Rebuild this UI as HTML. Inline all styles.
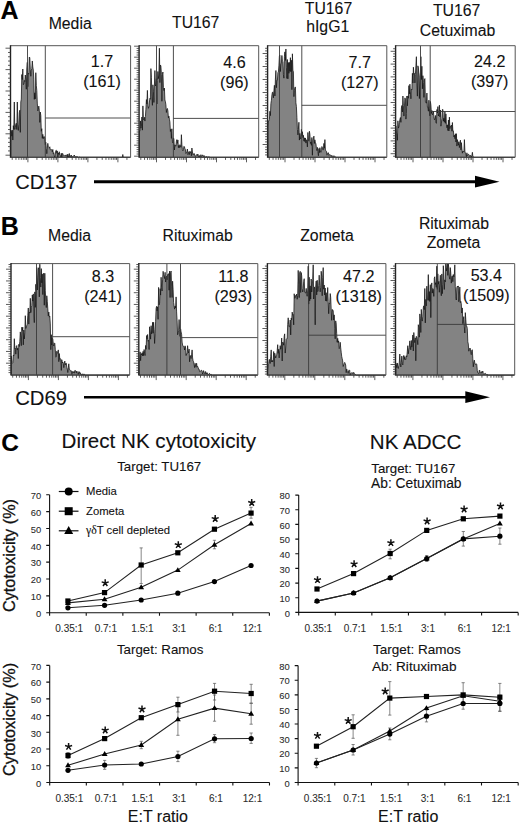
<!DOCTYPE html>
<html><head><meta charset="utf-8"><style>
html,body{margin:0;padding:0;background:#fff;}
svg{display:block;}
text{font-family:"Liberation Sans",sans-serif;}
</style></head><body>
<svg width="520" height="825" viewBox="0 0 520 825">
<rect x="0" y="0" width="520" height="825" fill="#fff"/>
<path d="M10.80,157.30 L10.80,131.46 L11.30,130.49 L11.80,136.20 L12.30,130.12 L12.80,140.02 L13.30,125.65 L13.80,129.38 L14.30,102.00 L14.80,129.42 L15.30,127.65 L15.80,124.45 L16.30,123.28 L16.80,129.51 L17.30,102.00 L17.80,123.26 L18.30,130.42 L18.80,124.74 L19.30,112.74 L19.80,110.19 L20.30,132.35 L20.80,102.00 L21.30,99.18 L21.80,74.55 L22.30,79.55 L22.80,69.00 L23.30,84.71 L23.80,84.01 L24.30,80.45 L24.80,81.54 L25.30,75.01 L25.80,79.67 L26.30,89.22 L26.80,69.00 L27.30,62.36 L27.80,86.72 L28.30,73.24 L28.80,74.18 L29.30,57.00 L29.80,57.81 L30.30,69.46 L30.80,76.26 L31.30,70.00 L31.80,68.50 L32.30,60.97 L32.80,66.97 L33.30,70.00 L33.80,79.13 L34.30,99.37 L34.80,92.78 L35.30,98.84 L35.80,72.69 L36.30,85.43 L36.80,90.47 L37.30,103.08 L37.80,110.87 L38.30,109.49 L38.80,106.07 L39.30,110.21 L39.80,122.40 L40.30,112.00 L40.80,115.48 L41.30,131.27 L41.80,128.70 L42.30,138.29 L42.80,134.34 L43.30,138.68 L43.80,136.67 L44.30,136.64 L44.80,138.10 L45.30,144.53 L45.80,142.19 L46.30,148.27 L46.80,153.72 L47.30,149.03 L47.80,143.35 L48.30,146.82 L48.80,147.41 L49.30,147.88 L49.80,146.76 L50.30,149.79 L50.80,149.98 L51.30,149.42 L51.80,150.16 L52.30,151.80 L52.80,149.40 L53.30,153.61 L53.80,152.70 L54.30,155.71 L54.80,157.30 L55.30,154.21 L55.80,150.65 L56.30,150.28 L56.80,153.24 L57.30,150.93 L57.80,157.04 L58.30,152.90 L58.80,154.41 L59.30,151.76 L59.80,155.09 L60.30,155.45 L60.80,156.80 L61.30,153.26 L61.80,157.30 L62.30,153.56 L62.80,153.49 L63.30,155.41 L63.80,155.68 L64.30,155.45 L64.80,155.72 L65.30,156.01 L65.80,155.03 L66.30,155.16 L66.80,154.91 L67.30,157.14 L67.80,154.06 L68.30,156.90 L68.80,155.98 L69.30,153.50 L69.80,156.97 L70.30,155.84 L70.80,156.13 L71.30,155.04 L71.80,157.30 L72.30,156.66 L72.80,156.47 L73.30,156.09 L73.80,156.16 L74.30,155.06 L74.80,156.11 L75.30,156.80 L75.80,156.76 L76.30,156.69 L76.80,156.48 L77.30,156.62 L77.80,157.01 L78.30,157.30 L78.80,157.19 L79.30,156.72 L79.80,157.30 L80.30,157.30 L80.80,157.30 L81.30,157.30 L81.80,157.30 L82.30,157.30 L82.80,157.30 L83.30,157.30 L83.80,157.30 L84.30,157.30 L84.80,157.30 L85.30,157.30 L85.80,157.30 L86.30,157.30 L86.80,157.30 L87.30,157.30 L87.80,157.30 L88.30,157.30 L88.80,157.30 L89.30,157.30 L89.80,157.30 L90.30,157.30 L90.80,157.30 L91.30,157.30 L91.80,157.30 L92.30,157.30 L92.80,157.30 L93.30,157.30 L93.80,157.30 L94.30,157.30 L94.80,157.30 L95.30,157.30 L95.80,157.30 L96.30,157.30 L96.80,157.30 L97.30,157.30 L97.80,157.30 L98.30,157.30 L98.80,157.30 L99.30,157.30 L99.80,157.30 L100.30,157.30 L100.80,157.30 L101.30,157.30 L101.80,157.30 L102.30,157.30 L102.80,157.30 L103.30,157.30 L103.80,157.30 L104.30,157.30 L104.80,157.30 L105.30,157.30 L105.80,157.30 L106.30,157.30 L106.80,157.30 L107.30,157.30 L107.80,157.30 L108.30,157.30 L108.80,157.30 L109.30,157.30 L109.80,157.30 L110.30,157.30 L110.80,157.30 L111.30,157.30 L111.80,157.30 L112.30,157.30 L112.80,157.30 L113.30,157.30 L113.80,157.30 L114.30,157.30 L114.80,157.30 L115.30,157.30 L115.80,157.30 L116.30,157.30 L116.80,157.30 L117.30,157.30 L117.80,157.30 L118.30,157.30 L118.80,157.30 L119.30,157.30 L119.80,157.30 L120.30,157.30 L120.80,157.30 L121.30,157.30 L121.80,157.30 L122.30,157.30 L122.80,154.50 L123.30,157.30 L123.80,157.30 L124.30,157.30 L124.80,157.30 L125.30,157.30 L125.80,157.30 L126.30,157.30 L126.80,157.30 L127.30,157.30 L127.80,157.30 L128.30,157.30 L128.80,157.30 L129.30,157.30 L129.80,157.30 L130.30,157.30 Z" fill="#838383" stroke="#111" stroke-width="0.75" stroke-linejoin="bevel"/>
<path d="M27.50,45.70 V157.30 M45.30,45.70 V157.30 M45.30,118.00 H130.60" stroke="#3a3a3a" stroke-width="0.9" fill="none"/>
<path d="M10.50,45.70 H130.60 V157.30" stroke="#555" stroke-width="1" fill="none"/>
<path d="M10.50,45.20 V157.80" stroke="#222" stroke-width="1.4" fill="none"/>
<path d="M10.50,157.30 H130.60" stroke="#444" stroke-width="1" fill="none"/>
<path d="M12.21,157.30 v2.60 M15.96,157.30 v2.60 M18.87,157.30 v2.60 M21.24,157.30 v2.60 M23.25,157.30 v2.60 M24.99,157.30 v2.60 M26.53,157.30 v2.60 M27.90,157.30 v5.00 M36.93,157.30 v2.60 M42.21,157.30 v2.60 M45.96,157.30 v2.60 M48.87,157.30 v2.60 M51.24,157.30 v2.60 M53.25,157.30 v2.60 M54.99,157.30 v2.60 M56.53,157.30 v2.60 M57.90,157.30 v5.00 M66.93,157.30 v2.60 M72.21,157.30 v2.60 M75.96,157.30 v2.60 M78.87,157.30 v2.60 M81.24,157.30 v2.60 M83.25,157.30 v2.60 M84.99,157.30 v2.60 M86.53,157.30 v2.60 M87.90,157.30 v5.00 M96.93,157.30 v2.60 M102.21,157.30 v2.60 M105.96,157.30 v2.60 M108.87,157.30 v2.60 M111.24,157.30 v2.60 M113.25,157.30 v2.60 M114.99,157.30 v2.60 M116.53,157.30 v2.60 M117.90,157.30 v5.00 M126.93,157.30 v2.60 " stroke="#333" stroke-width="0.8" fill="none"/>
<path d="M10.50,48.20 h-5.00 M10.50,52.48 h-2.50 M10.50,56.76 h-2.50 M10.50,61.04 h-2.50 M10.50,65.32 h-2.50 M10.50,69.60 h-5.00 M10.50,73.88 h-2.50 M10.50,78.16 h-2.50 M10.50,82.44 h-2.50 M10.50,86.72 h-2.50 M10.50,91.00 h-5.00 M10.50,95.28 h-2.50 M10.50,99.56 h-2.50 M10.50,103.84 h-2.50 M10.50,108.12 h-2.50 M10.50,112.40 h-5.00 M10.50,116.68 h-2.50 M10.50,120.96 h-2.50 M10.50,125.24 h-2.50 M10.50,129.52 h-2.50 M10.50,133.80 h-5.00 M10.50,138.08 h-2.50 M10.50,142.36 h-2.50 M10.50,146.64 h-2.50 M10.50,150.92 h-2.50 M10.50,155.20 h-5.00 " stroke="#333" stroke-width="0.8" fill="none"/>
<path d="M139.40,157.30 L139.40,130.90 L139.90,131.18 L140.40,120.86 L140.90,128.18 L141.40,126.72 L141.90,117.00 L142.40,130.15 L142.90,105.90 L143.40,119.32 L143.90,120.00 L144.40,117.24 L144.90,121.05 L145.40,116.66 L145.90,109.24 L146.40,99.58 L146.90,103.94 L147.40,90.40 L147.90,105.45 L148.40,108.31 L148.90,106.87 L149.40,102.03 L149.90,98.39 L150.40,99.20 L150.90,68.60 L151.40,77.50 L151.90,96.14 L152.40,105.32 L152.90,84.80 L153.40,91.23 L153.90,102.44 L154.40,85.95 L154.90,70.55 L155.40,85.92 L155.90,84.36 L156.40,78.75 L156.90,103.98 L157.40,80.34 L157.90,71.47 L158.40,78.60 L158.90,75.11 L159.40,48.20 L159.90,82.60 L160.40,64.98 L160.90,65.99 L161.40,74.29 L161.90,101.25 L162.40,74.75 L162.90,72.00 L163.40,87.39 L163.90,90.57 L164.40,88.09 L164.90,100.00 L165.40,101.59 L165.90,104.88 L166.40,112.46 L166.90,109.04 L167.40,108.48 L167.90,110.95 L168.40,117.89 L168.90,116.12 L169.40,119.17 L169.90,121.94 L170.40,131.45 L170.90,129.22 L171.40,138.40 L171.90,128.78 L172.40,141.30 L172.90,142.94 L173.40,138.20 L173.90,138.47 L174.40,150.01 L174.90,144.78 L175.40,145.91 L175.90,146.24 L176.40,141.28 L176.90,139.60 L177.40,143.32 L177.90,139.96 L178.40,147.67 L178.90,145.36 L179.40,147.67 L179.90,144.65 L180.40,145.88 L180.90,147.30 L181.40,134.70 L181.90,144.68 L182.40,149.61 L182.90,150.84 L183.40,149.91 L183.90,146.25 L184.40,146.72 L184.90,148.48 L185.40,149.50 L185.90,153.63 L186.40,152.90 L186.90,151.53 L187.40,149.00 L187.90,154.68 L188.40,153.65 L188.90,151.65 L189.40,154.55 L189.90,151.35 L190.40,152.55 L190.90,151.68 L191.40,155.78 L191.90,148.00 L192.40,151.96 L192.90,154.88 L193.40,154.72 L193.90,153.36 L194.40,153.77 L194.90,155.73 L195.40,156.46 L195.90,155.57 L196.40,155.00 L196.90,154.41 L197.40,155.48 L197.90,154.10 L198.40,156.26 L198.90,156.97 L199.40,155.53 L199.90,157.14 L200.40,156.68 L200.90,154.64 L201.40,156.53 L201.90,155.99 L202.40,154.98 L202.90,155.13 L203.40,156.56 L203.90,155.56 L204.40,155.97 L204.90,156.13 L205.40,157.30 L205.90,157.16 L206.40,156.47 L206.90,156.82 L207.40,156.88 L207.90,157.30 L208.40,157.30 L208.90,156.51 L209.40,157.30 L209.90,157.30 L210.40,157.30 L210.90,157.30 L211.40,157.30 L211.90,157.30 L212.40,157.30 L212.90,157.30 L213.40,157.30 L213.90,157.30 L214.40,157.30 L214.90,157.30 L215.40,157.30 L215.90,157.30 L216.40,157.30 L216.90,157.30 L217.40,157.30 L217.90,157.30 L218.40,157.30 L218.90,157.30 L219.40,157.30 L219.90,157.30 L220.40,157.30 L220.90,157.30 L221.40,157.30 L221.90,157.30 L222.40,157.30 L222.90,157.30 L223.40,157.30 L223.90,157.30 L224.40,157.30 L224.90,157.30 L225.40,157.30 L225.90,157.30 L226.40,157.30 L226.90,157.30 L227.40,157.30 L227.90,157.30 L228.40,157.30 L228.90,157.30 L229.40,157.30 L229.90,157.30 L230.40,157.30 L230.90,157.30 L231.40,157.30 L231.90,157.30 L232.40,157.30 L232.90,157.30 L233.40,157.30 L233.90,157.30 L234.40,157.30 L234.90,157.30 L235.40,157.30 L235.90,157.30 L236.40,157.30 L236.90,157.30 L237.40,157.30 L237.90,157.30 L238.40,157.30 L238.90,157.30 L239.40,157.30 L239.90,157.30 L240.40,157.30 L240.90,157.30 L241.40,157.30 L241.90,157.30 L242.40,157.30 L242.90,157.30 L243.40,157.30 L243.90,157.30 L244.40,157.30 L244.90,157.30 L245.40,157.30 L245.90,157.30 L246.40,157.30 L246.90,157.30 L247.40,157.30 L247.90,157.30 L248.40,157.30 L248.90,157.30 L249.40,157.30 L249.90,157.30 L250.40,157.30 L250.90,157.30 L251.40,157.30 L251.90,157.30 L252.40,157.30 L252.90,157.30 L253.40,157.30 L253.90,157.30 L254.40,157.30 L254.90,157.30 L255.40,157.30 L255.90,157.30 L256.40,157.30 L256.90,157.30 L257.40,157.30 L257.90,157.30 L258.40,157.30 Z" fill="#838383" stroke="#111" stroke-width="0.75" stroke-linejoin="bevel"/>
<path d="M156.50,45.70 V157.30 M173.40,45.70 V157.30 M173.40,118.40 H258.70" stroke="#3a3a3a" stroke-width="0.9" fill="none"/>
<path d="M139.10,45.70 H258.70 V157.30" stroke="#555" stroke-width="1" fill="none"/>
<path d="M139.10,45.20 V157.80" stroke="#222" stroke-width="1.4" fill="none"/>
<path d="M139.10,157.30 H258.70" stroke="#444" stroke-width="1" fill="none"/>
<path d="M140.81,157.30 v2.60 M144.56,157.30 v2.60 M147.47,157.30 v2.60 M149.84,157.30 v2.60 M151.85,157.30 v2.60 M153.59,157.30 v2.60 M155.13,157.30 v2.60 M156.50,157.30 v5.00 M165.53,157.30 v2.60 M170.81,157.30 v2.60 M174.56,157.30 v2.60 M177.47,157.30 v2.60 M179.84,157.30 v2.60 M181.85,157.30 v2.60 M183.59,157.30 v2.60 M185.13,157.30 v2.60 M186.50,157.30 v5.00 M195.53,157.30 v2.60 M200.81,157.30 v2.60 M204.56,157.30 v2.60 M207.47,157.30 v2.60 M209.84,157.30 v2.60 M211.85,157.30 v2.60 M213.59,157.30 v2.60 M215.13,157.30 v2.60 M216.50,157.30 v5.00 M225.53,157.30 v2.60 M230.81,157.30 v2.60 M234.56,157.30 v2.60 M237.47,157.30 v2.60 M239.84,157.30 v2.60 M241.85,157.30 v2.60 M243.59,157.30 v2.60 M245.13,157.30 v2.60 M246.50,157.30 v5.00 M255.53,157.30 v2.60 " stroke="#333" stroke-width="0.8" fill="none"/>
<path d="M139.10,46.20 h-5.00 M139.10,48.40 h-2.50 M139.10,50.60 h-2.50 M139.10,52.80 h-2.50 M139.10,55.00 h-2.50 M139.10,57.20 h-5.00 M139.10,59.40 h-2.50 M139.10,61.60 h-2.50 M139.10,63.80 h-2.50 M139.10,66.00 h-2.50 M139.10,68.20 h-5.00 M139.10,70.40 h-2.50 M139.10,72.60 h-2.50 M139.10,74.80 h-2.50 M139.10,77.00 h-2.50 M139.10,79.20 h-5.00 M139.10,81.40 h-2.50 M139.10,83.60 h-2.50 M139.10,85.80 h-2.50 M139.10,88.00 h-2.50 M139.10,90.20 h-5.00 M139.10,92.40 h-2.50 M139.10,94.60 h-2.50 M139.10,96.80 h-2.50 M139.10,99.00 h-2.50 M139.10,101.20 h-5.00 M139.10,103.40 h-2.50 M139.10,105.60 h-2.50 M139.10,107.80 h-2.50 M139.10,110.00 h-2.50 M139.10,112.20 h-5.00 M139.10,114.40 h-2.50 M139.10,116.60 h-2.50 M139.10,118.80 h-2.50 M139.10,121.00 h-2.50 M139.10,123.20 h-5.00 M139.10,125.40 h-2.50 M139.10,127.60 h-2.50 M139.10,129.80 h-2.50 M139.10,132.00 h-2.50 M139.10,134.20 h-5.00 M139.10,136.40 h-2.50 M139.10,138.60 h-2.50 M139.10,140.80 h-2.50 M139.10,143.00 h-2.50 M139.10,145.20 h-5.00 M139.10,147.40 h-2.50 M139.10,149.60 h-2.50 M139.10,151.80 h-2.50 M139.10,154.00 h-2.50 M139.10,156.20 h-5.00 " stroke="#333" stroke-width="0.8" fill="none"/>
<path d="M267.90,157.30 L267.90,126.09 L268.40,120.93 L268.90,120.88 L269.40,119.38 L269.90,111.24 L270.40,115.60 L270.90,103.53 L271.40,100.38 L271.90,95.04 L272.40,92.22 L272.90,92.32 L273.40,97.87 L273.90,90.77 L274.40,85.30 L274.90,95.94 L275.40,79.20 L275.90,70.49 L276.40,87.74 L276.90,80.26 L277.40,80.23 L277.90,72.69 L278.40,72.00 L278.90,65.81 L279.40,55.84 L279.90,55.07 L280.40,71.54 L280.90,63.96 L281.40,63.12 L281.90,55.45 L282.40,61.20 L282.90,61.76 L283.40,74.64 L283.90,78.17 L284.40,56.70 L284.90,51.86 L285.40,60.41 L285.90,48.97 L286.40,67.17 L286.90,78.43 L287.40,59.50 L287.90,78.88 L288.40,62.52 L288.90,73.29 L289.40,62.33 L289.90,71.29 L290.40,57.67 L290.90,71.69 L291.40,60.21 L291.90,89.68 L292.40,53.80 L292.90,70.23 L293.40,71.64 L293.90,96.64 L294.40,90.58 L294.90,87.60 L295.40,86.92 L295.90,102.76 L296.40,106.56 L296.90,117.25 L297.40,129.32 L297.90,134.87 L298.40,129.23 L298.90,122.25 L299.40,140.09 L299.90,133.41 L300.40,138.00 L300.90,139.03 L301.40,129.33 L301.90,135.77 L302.40,131.71 L302.90,137.58 L303.40,135.29 L303.90,141.13 L304.40,137.82 L304.90,141.64 L305.40,137.95 L305.90,143.08 L306.40,139.86 L306.90,140.09 L307.40,146.89 L307.90,132.45 L308.40,140.54 L308.90,141.15 L309.40,131.20 L309.90,134.25 L310.40,143.48 L310.90,142.01 L311.40,145.31 L311.90,137.50 L312.40,155.25 L312.90,140.16 L313.40,138.72 L313.90,136.10 L314.40,143.47 L314.90,139.84 L315.40,143.16 L315.90,143.33 L316.40,148.35 L316.90,150.63 L317.40,147.37 L317.90,151.23 L318.40,155.74 L318.90,148.54 L319.40,152.63 L319.90,147.68 L320.40,150.77 L320.90,152.32 L321.40,149.73 L321.90,146.53 L322.40,147.59 L322.90,150.03 L323.40,149.82 L323.90,143.39 L324.40,148.21 L324.90,139.60 L325.40,150.03 L325.90,150.72 L326.40,151.22 L326.90,155.17 L327.40,154.36 L327.90,152.70 L328.40,152.80 L328.90,155.45 L329.40,154.68 L329.90,154.71 L330.40,154.86 L330.90,155.45 L331.40,156.34 L331.90,155.34 L332.40,156.68 L332.90,156.83 L333.40,156.67 L333.90,155.66 L334.40,156.29 L334.90,156.66 L335.40,156.70 L335.90,157.30 L336.40,157.30 L336.90,157.30 L337.40,157.30 L337.90,157.30 L338.40,157.30 L338.90,157.30 L339.40,157.30 L339.90,157.30 L340.40,157.30 L340.90,157.30 L341.40,157.30 L341.90,157.30 L342.40,157.30 L342.90,157.30 L343.40,157.30 L343.90,157.30 L344.40,157.30 L344.90,157.30 L345.40,157.30 L345.90,157.30 L346.40,157.30 L346.90,157.30 L347.40,157.30 L347.90,157.30 L348.40,157.30 L348.90,157.30 L349.40,157.30 L349.90,157.30 L350.40,157.30 L350.90,157.30 L351.40,157.30 L351.90,157.30 L352.40,157.30 L352.90,157.30 L353.40,157.30 L353.90,157.30 L354.40,157.30 L354.90,157.30 L355.40,157.30 L355.90,157.30 L356.40,157.30 L356.90,157.30 L357.40,157.30 L357.90,157.30 L358.40,157.30 L358.90,157.30 L359.40,157.30 L359.90,157.30 L360.40,157.30 L360.90,157.30 L361.40,157.30 L361.90,157.30 L362.40,157.30 L362.90,157.30 L363.40,157.30 L363.90,157.30 L364.40,157.30 L364.90,157.30 L365.40,157.30 L365.90,157.30 L366.40,157.30 L366.90,157.30 L367.40,157.30 L367.90,157.30 L368.40,157.30 L368.90,157.30 L369.40,157.30 L369.90,157.30 L370.40,157.30 L370.90,157.30 L371.40,157.30 L371.90,157.30 L372.40,157.30 L372.90,157.30 L373.40,157.30 L373.90,157.30 L374.40,157.30 L374.90,157.30 L375.40,157.30 L375.90,157.30 L376.40,157.30 L376.90,157.30 L377.40,157.30 L377.90,157.30 L378.40,157.30 L378.90,157.30 L379.40,157.30 L379.90,157.30 L380.40,157.30 L380.90,157.30 L381.40,157.30 L381.90,157.30 L382.40,157.30 L382.90,157.30 L383.40,157.30 L383.90,157.30 L384.40,157.30 L384.90,157.30 L385.40,157.30 L385.90,157.30 L386.40,157.30 Z" fill="#838383" stroke="#111" stroke-width="0.75" stroke-linejoin="bevel"/>
<path d="M279.50,45.70 V157.30 M301.80,45.70 V157.30 M301.80,105.30 H386.80" stroke="#3a3a3a" stroke-width="0.9" fill="none"/>
<path d="M267.60,45.70 H386.80 V157.30" stroke="#555" stroke-width="1" fill="none"/>
<path d="M267.60,45.20 V157.80" stroke="#222" stroke-width="1.4" fill="none"/>
<path d="M267.60,157.30 H386.80" stroke="#444" stroke-width="1" fill="none"/>
<path d="M269.31,157.30 v2.60 M273.06,157.30 v2.60 M275.97,157.30 v2.60 M278.34,157.30 v2.60 M280.35,157.30 v2.60 M282.09,157.30 v2.60 M283.63,157.30 v2.60 M285.00,157.30 v5.00 M294.03,157.30 v2.60 M299.31,157.30 v2.60 M303.06,157.30 v2.60 M305.97,157.30 v2.60 M308.34,157.30 v2.60 M310.35,157.30 v2.60 M312.09,157.30 v2.60 M313.63,157.30 v2.60 M315.00,157.30 v5.00 M324.03,157.30 v2.60 M329.31,157.30 v2.60 M333.06,157.30 v2.60 M335.97,157.30 v2.60 M338.34,157.30 v2.60 M340.35,157.30 v2.60 M342.09,157.30 v2.60 M343.63,157.30 v2.60 M345.00,157.30 v5.00 M354.03,157.30 v2.60 M359.31,157.30 v2.60 M363.06,157.30 v2.60 M365.97,157.30 v2.60 M368.34,157.30 v2.60 M370.35,157.30 v2.60 M372.09,157.30 v2.60 M373.63,157.30 v2.60 M375.00,157.30 v5.00 M384.03,157.30 v2.60 " stroke="#333" stroke-width="0.8" fill="none"/>
<path d="M267.60,53.50 h-5.00 M267.60,56.10 h-2.50 M267.60,58.70 h-2.50 M267.60,61.30 h-2.50 M267.60,63.90 h-2.50 M267.60,66.50 h-5.00 M267.60,69.10 h-2.50 M267.60,71.70 h-2.50 M267.60,74.30 h-2.50 M267.60,76.90 h-2.50 M267.60,79.50 h-5.00 M267.60,82.10 h-2.50 M267.60,84.70 h-2.50 M267.60,87.30 h-2.50 M267.60,89.90 h-2.50 M267.60,92.50 h-5.00 M267.60,95.10 h-2.50 M267.60,97.70 h-2.50 M267.60,100.30 h-2.50 M267.60,102.90 h-2.50 M267.60,105.50 h-5.00 M267.60,108.10 h-2.50 M267.60,110.70 h-2.50 M267.60,113.30 h-2.50 M267.60,115.90 h-2.50 M267.60,118.50 h-5.00 M267.60,121.10 h-2.50 M267.60,123.70 h-2.50 M267.60,126.30 h-2.50 M267.60,128.90 h-2.50 M267.60,131.50 h-5.00 M267.60,134.10 h-2.50 M267.60,136.70 h-2.50 M267.60,139.30 h-2.50 M267.60,141.90 h-2.50 M267.60,144.50 h-5.00 M267.60,147.10 h-2.50 M267.60,149.70 h-2.50 M267.60,152.30 h-2.50 M267.60,154.90 h-2.50 M267.60,50.90 h-2.5 M267.60,48.30 h-2.5 " stroke="#333" stroke-width="0.8" fill="none"/>
<path d="M395.90,157.30 L395.90,125.81 L396.40,132.92 L396.90,133.34 L397.40,140.28 L397.90,120.80 L398.40,128.09 L398.90,126.89 L399.40,122.80 L399.90,119.26 L400.40,117.52 L400.90,122.35 L401.40,107.97 L401.90,105.50 L402.40,111.99 L402.90,96.00 L403.40,105.62 L403.90,116.09 L404.40,106.99 L404.90,97.87 L405.40,98.97 L405.90,119.12 L406.40,113.51 L406.90,96.00 L407.40,105.79 L407.90,95.91 L408.40,98.21 L408.90,85.61 L409.40,93.90 L409.90,84.13 L410.40,91.92 L410.90,98.81 L411.40,89.00 L411.90,89.57 L412.40,73.30 L412.90,83.03 L413.40,67.20 L413.90,74.29 L414.40,73.41 L414.90,82.92 L415.40,74.64 L415.90,65.74 L416.40,56.70 L416.90,83.07 L417.40,96.15 L417.90,65.84 L418.40,68.01 L418.90,77.12 L419.40,98.59 L419.90,75.60 L420.40,72.14 L420.90,56.70 L421.40,79.53 L421.90,66.29 L422.40,88.79 L422.90,75.69 L423.40,82.57 L423.90,97.39 L424.40,79.90 L424.90,78.59 L425.40,101.81 L425.90,101.96 L426.40,103.18 L426.90,93.06 L427.40,106.93 L427.90,106.98 L428.40,111.20 L428.90,100.17 L429.40,108.89 L429.90,115.83 L430.40,101.45 L430.90,105.21 L431.40,113.46 L431.90,110.54 L432.40,114.84 L432.90,113.52 L433.40,111.09 L433.90,116.72 L434.40,119.87 L434.90,119.11 L435.40,115.44 L435.90,122.31 L436.40,123.30 L436.90,109.52 L437.40,112.93 L437.90,106.60 L438.40,116.01 L438.90,113.61 L439.40,105.19 L439.90,116.83 L440.40,110.00 L440.90,126.17 L441.40,123.12 L441.90,118.35 L442.40,109.53 L442.90,109.40 L443.40,121.12 L443.90,118.19 L444.40,122.20 L444.90,111.67 L445.40,123.30 L445.90,113.88 L446.40,124.34 L446.90,127.76 L447.40,124.81 L447.90,130.50 L448.40,120.00 L448.90,130.96 L449.40,117.13 L449.90,128.58 L450.40,126.33 L450.90,126.56 L451.40,125.00 L451.90,131.18 L452.40,122.49 L452.90,131.16 L453.40,130.93 L453.90,136.93 L454.40,135.17 L454.90,138.72 L455.40,133.78 L455.90,141.97 L456.40,133.66 L456.90,146.05 L457.40,139.60 L457.90,142.03 L458.40,145.20 L458.90,141.81 L459.40,147.59 L459.90,143.29 L460.40,140.11 L460.90,149.84 L461.40,142.64 L461.90,148.69 L462.40,153.17 L462.90,150.97 L463.40,151.56 L463.90,152.06 L464.40,139.60 L464.90,151.21 L465.40,153.28 L465.90,154.27 L466.40,156.71 L466.90,152.81 L467.40,155.61 L467.90,155.41 L468.40,154.23 L468.90,154.51 L469.40,155.45 L469.90,156.67 L470.40,155.46 L470.90,155.61 L471.40,156.83 L471.90,155.36 L472.40,152.30 L472.90,156.58 L473.40,156.91 L473.90,156.83 L474.40,157.30 L474.90,157.30 L475.40,157.30 L475.90,157.30 L476.40,157.30 L476.90,157.30 L477.40,157.30 L477.90,157.30 L478.40,157.30 L478.90,157.30 L479.40,157.30 L479.90,157.30 L480.40,157.30 L480.90,157.30 L481.40,157.30 L481.90,157.30 L482.40,157.30 L482.90,157.30 L483.40,157.30 L483.90,157.30 L484.40,157.30 L484.90,157.30 L485.40,157.30 L485.90,157.30 L486.40,157.30 L486.90,157.30 L487.40,157.30 L487.90,157.30 L488.40,157.30 L488.90,157.30 L489.40,157.30 L489.90,157.30 L490.40,157.30 L490.90,157.30 L491.40,157.30 L491.90,157.30 L492.40,157.30 L492.90,157.30 L493.40,157.30 L493.90,157.30 L494.40,157.30 L494.90,157.30 L495.40,157.30 L495.90,157.30 L496.40,157.30 L496.90,157.30 L497.40,157.30 L497.90,157.30 L498.40,157.30 L498.90,157.30 L499.40,157.30 L499.90,157.30 L500.40,157.30 L500.90,157.30 L501.40,157.30 L501.90,157.30 L502.40,157.30 L502.90,157.30 L503.40,157.30 L503.90,157.30 L504.40,157.30 L504.90,157.30 L505.40,157.30 L505.90,157.30 L506.40,157.30 L506.90,157.30 L507.40,157.30 L507.90,157.30 L508.40,157.30 L508.90,157.30 L509.40,157.30 L509.90,157.30 L510.40,157.30 L510.90,157.30 L511.40,157.30 L511.90,157.30 L512.40,157.30 L512.90,157.30 L513.40,157.30 L513.90,157.30 L514.40,157.30 L514.90,157.30 Z" fill="#838383" stroke="#111" stroke-width="0.75" stroke-linejoin="bevel"/>
<path d="M420.50,45.70 V157.30 M430.20,45.70 V157.30 M430.20,111.50 H515.20" stroke="#3a3a3a" stroke-width="0.9" fill="none"/>
<path d="M395.60,45.70 H515.20 V157.30" stroke="#555" stroke-width="1" fill="none"/>
<path d="M395.60,45.20 V157.80" stroke="#222" stroke-width="1.4" fill="none"/>
<path d="M395.60,157.30 H515.20" stroke="#444" stroke-width="1" fill="none"/>
<path d="M397.31,157.30 v2.60 M401.06,157.30 v2.60 M403.97,157.30 v2.60 M406.34,157.30 v2.60 M408.35,157.30 v2.60 M410.09,157.30 v2.60 M411.63,157.30 v2.60 M413.00,157.30 v5.00 M422.03,157.30 v2.60 M427.31,157.30 v2.60 M431.06,157.30 v2.60 M433.97,157.30 v2.60 M436.34,157.30 v2.60 M438.35,157.30 v2.60 M440.09,157.30 v2.60 M441.63,157.30 v2.60 M443.00,157.30 v5.00 M452.03,157.30 v2.60 M457.31,157.30 v2.60 M461.06,157.30 v2.60 M463.97,157.30 v2.60 M466.34,157.30 v2.60 M468.35,157.30 v2.60 M470.09,157.30 v2.60 M471.63,157.30 v2.60 M473.00,157.30 v5.00 M482.03,157.30 v2.60 M487.31,157.30 v2.60 M491.06,157.30 v2.60 M493.97,157.30 v2.60 M496.34,157.30 v2.60 M498.35,157.30 v2.60 M500.09,157.30 v2.60 M501.63,157.30 v2.60 M503.00,157.30 v5.00 M512.03,157.30 v2.60 " stroke="#333" stroke-width="0.8" fill="none"/>
<path d="M395.60,51.30 h-5.00 M395.60,53.86 h-2.50 M395.60,56.42 h-2.50 M395.60,58.98 h-2.50 M395.60,61.54 h-2.50 M395.60,64.10 h-5.00 M395.60,66.66 h-2.50 M395.60,69.22 h-2.50 M395.60,71.78 h-2.50 M395.60,74.34 h-2.50 M395.60,76.90 h-5.00 M395.60,79.46 h-2.50 M395.60,82.02 h-2.50 M395.60,84.58 h-2.50 M395.60,87.14 h-2.50 M395.60,89.70 h-5.00 M395.60,92.26 h-2.50 M395.60,94.82 h-2.50 M395.60,97.38 h-2.50 M395.60,99.94 h-2.50 M395.60,102.50 h-5.00 M395.60,105.06 h-2.50 M395.60,107.62 h-2.50 M395.60,110.18 h-2.50 M395.60,112.74 h-2.50 M395.60,115.30 h-5.00 M395.60,117.86 h-2.50 M395.60,120.42 h-2.50 M395.60,122.98 h-2.50 M395.60,125.54 h-2.50 M395.60,128.10 h-5.00 M395.60,130.66 h-2.50 M395.60,133.22 h-2.50 M395.60,135.78 h-2.50 M395.60,138.34 h-2.50 M395.60,140.90 h-5.00 M395.60,143.46 h-2.50 M395.60,146.02 h-2.50 M395.60,148.58 h-2.50 M395.60,151.14 h-2.50 M395.60,153.70 h-5.00 M395.60,156.26 h-2.50 M395.60,48.74 h-2.5 " stroke="#333" stroke-width="0.8" fill="none"/>
<path d="M11.30,375.10 L11.30,356.10 L11.80,362.44 L12.30,363.27 L12.80,362.66 L13.30,355.23 L13.80,356.02 L14.30,338.70 L14.80,348.50 L15.30,348.00 L15.80,354.16 L16.30,346.24 L16.80,345.56 L17.30,350.09 L17.80,348.09 L18.30,358.53 L18.80,344.30 L19.30,346.52 L19.80,341.36 L20.30,331.89 L20.80,337.19 L21.30,345.65 L21.80,327.21 L22.30,330.48 L22.80,327.21 L23.30,344.84 L23.80,330.02 L24.30,338.94 L24.80,332.80 L25.30,315.69 L25.80,328.48 L26.30,326.85 L26.80,325.43 L27.30,324.32 L27.80,315.31 L28.30,307.98 L28.80,324.07 L29.30,312.27 L29.80,313.07 L30.30,298.30 L30.80,312.66 L31.30,307.76 L31.80,305.54 L32.30,294.98 L32.80,301.09 L33.30,293.90 L33.80,311.95 L34.30,322.60 L34.80,291.88 L35.30,307.35 L35.80,284.30 L36.30,290.32 L36.80,267.60 L37.30,290.01 L37.80,277.07 L38.30,269.00 L38.80,267.66 L39.30,296.88 L39.80,264.17 L40.30,277.66 L40.80,287.08 L41.30,268.62 L41.80,282.82 L42.30,274.12 L42.80,294.57 L43.30,273.20 L43.80,273.72 L44.30,305.21 L44.80,273.23 L45.30,290.81 L45.80,301.01 L46.30,307.55 L46.80,295.76 L47.30,301.58 L47.80,308.85 L48.30,315.90 L48.80,312.03 L49.30,317.17 L49.80,316.26 L50.30,323.92 L50.80,349.67 L51.30,334.70 L51.80,345.09 L52.30,338.22 L52.80,339.36 L53.30,344.29 L53.80,346.02 L54.30,342.90 L54.80,343.45 L55.30,349.51 L55.80,357.20 L56.30,356.55 L56.80,351.20 L57.30,353.34 L57.80,352.71 L58.30,349.90 L58.80,361.67 L59.30,353.52 L59.80,359.39 L60.30,358.58 L60.80,359.28 L61.30,370.41 L61.80,359.73 L62.30,362.98 L62.80,362.07 L63.30,363.25 L63.80,367.61 L64.30,363.22 L64.80,361.08 L65.30,364.95 L65.80,363.34 L66.30,363.30 L66.80,367.39 L67.30,369.07 L67.80,372.55 L68.30,367.78 L68.80,363.80 L69.30,369.27 L69.80,369.60 L70.30,370.34 L70.80,371.23 L71.30,370.81 L71.80,374.37 L72.30,373.48 L72.80,371.27 L73.30,372.65 L73.80,371.70 L74.30,373.22 L74.80,370.47 L75.30,370.47 L75.80,370.92 L76.30,373.17 L76.80,371.05 L77.30,372.02 L77.80,372.65 L78.30,374.42 L78.80,371.63 L79.30,371.81 L79.80,373.68 L80.30,372.70 L80.80,374.05 L81.30,375.10 L81.80,374.41 L82.30,374.69 L82.80,373.78 L83.30,374.26 L83.80,374.59 L84.30,374.23 L84.80,375.10 L85.30,375.10 L85.80,375.10 L86.30,375.10 L86.80,375.10 L87.30,375.10 L87.80,375.10 L88.30,375.10 L88.80,375.10 L89.30,375.10 L89.80,375.10 L90.30,375.10 L90.80,375.10 L91.30,375.10 L91.80,375.10 L92.30,375.10 L92.80,375.10 L93.30,375.10 L93.80,375.10 L94.30,375.10 L94.80,375.10 L95.30,375.10 L95.80,375.10 L96.30,375.10 L96.80,375.10 L97.30,375.10 L97.80,375.10 L98.30,375.10 L98.80,375.10 L99.30,375.10 L99.80,375.10 L100.30,375.10 L100.80,375.10 L101.30,375.10 L101.80,375.10 L102.30,375.10 L102.80,375.10 L103.30,375.10 L103.80,375.10 L104.30,375.10 L104.80,375.10 L105.30,375.10 L105.80,375.10 L106.30,375.10 L106.80,375.10 L107.30,375.10 L107.80,375.10 L108.30,375.10 L108.80,375.10 L109.30,375.10 L109.80,375.10 L110.30,375.10 L110.80,375.10 L111.30,375.10 L111.80,375.10 L112.30,375.10 L112.80,375.10 L113.30,375.10 L113.80,375.10 L114.30,375.10 L114.80,375.10 L115.30,375.10 L115.80,375.10 L116.30,375.10 L116.80,375.10 L117.30,375.10 L117.80,375.10 L118.30,375.10 L118.80,375.10 L119.30,375.10 L119.80,375.10 L120.30,375.10 L120.80,375.10 L121.30,375.10 L121.80,375.10 L122.30,375.10 L122.80,375.10 L123.30,375.10 L123.80,375.10 L124.30,375.10 L124.80,375.10 L125.30,375.10 L125.80,375.10 L126.30,375.10 L126.80,375.10 L127.30,375.10 L127.80,375.10 L128.30,375.10 L128.80,375.10 L129.30,375.10 Z" fill="#838383" stroke="#111" stroke-width="0.75" stroke-linejoin="bevel"/>
<path d="M36.50,263.60 V375.10 M52.60,263.60 V375.10 M52.60,336.70 H129.70" stroke="#3a3a3a" stroke-width="0.9" fill="none"/>
<path d="M11.00,263.60 H129.70 V375.10" stroke="#555" stroke-width="1" fill="none"/>
<path d="M11.00,263.10 V375.60" stroke="#222" stroke-width="1.4" fill="none"/>
<path d="M11.00,375.10 H129.70" stroke="#444" stroke-width="1" fill="none"/>
<path d="M12.71,375.10 v2.60 M16.46,375.10 v2.60 M19.37,375.10 v2.60 M21.74,375.10 v2.60 M23.75,375.10 v2.60 M25.49,375.10 v2.60 M27.03,375.10 v2.60 M28.40,375.10 v5.00 M37.43,375.10 v2.60 M42.71,375.10 v2.60 M46.46,375.10 v2.60 M49.37,375.10 v2.60 M51.74,375.10 v2.60 M53.75,375.10 v2.60 M55.49,375.10 v2.60 M57.03,375.10 v2.60 M58.40,375.10 v5.00 M67.43,375.10 v2.60 M72.71,375.10 v2.60 M76.46,375.10 v2.60 M79.37,375.10 v2.60 M81.74,375.10 v2.60 M83.75,375.10 v2.60 M85.49,375.10 v2.60 M87.03,375.10 v2.60 M88.40,375.10 v5.00 M97.43,375.10 v2.60 M102.71,375.10 v2.60 M106.46,375.10 v2.60 M109.37,375.10 v2.60 M111.74,375.10 v2.60 M113.75,375.10 v2.60 M115.49,375.10 v2.60 M117.03,375.10 v2.60 M118.40,375.10 v5.00 M127.43,375.10 v2.60 " stroke="#333" stroke-width="0.8" fill="none"/>
<path d="M11.00,269.20 h-5.00 M11.00,271.55 h-2.50 M11.00,273.90 h-2.50 M11.00,276.25 h-2.50 M11.00,278.60 h-2.50 M11.00,280.95 h-5.00 M11.00,283.30 h-2.50 M11.00,285.65 h-2.50 M11.00,288.00 h-2.50 M11.00,290.35 h-2.50 M11.00,292.70 h-5.00 M11.00,295.05 h-2.50 M11.00,297.40 h-2.50 M11.00,299.75 h-2.50 M11.00,302.10 h-2.50 M11.00,304.45 h-5.00 M11.00,306.80 h-2.50 M11.00,309.15 h-2.50 M11.00,311.50 h-2.50 M11.00,313.85 h-2.50 M11.00,316.20 h-5.00 M11.00,318.55 h-2.50 M11.00,320.90 h-2.50 M11.00,323.25 h-2.50 M11.00,325.60 h-2.50 M11.00,327.95 h-5.00 M11.00,330.30 h-2.50 M11.00,332.65 h-2.50 M11.00,335.00 h-2.50 M11.00,337.35 h-2.50 M11.00,339.70 h-5.00 M11.00,342.05 h-2.50 M11.00,344.40 h-2.50 M11.00,346.75 h-2.50 M11.00,349.10 h-2.50 M11.00,351.45 h-5.00 M11.00,353.80 h-2.50 M11.00,356.15 h-2.50 M11.00,358.50 h-2.50 M11.00,360.85 h-2.50 M11.00,363.20 h-5.00 M11.00,365.55 h-2.50 M11.00,367.90 h-2.50 M11.00,370.25 h-2.50 M11.00,372.60 h-2.50 M11.00,266.85 h-2.5 M11.00,264.50 h-2.5 " stroke="#333" stroke-width="0.8" fill="none"/>
<path d="M139.10,375.10 L139.10,363.51 L139.60,359.87 L140.10,351.88 L140.60,360.65 L141.10,353.77 L141.60,354.79 L142.10,352.81 L142.60,355.85 L143.10,351.30 L143.60,355.65 L144.10,349.54 L144.60,353.10 L145.10,355.54 L145.60,345.46 L146.10,349.27 L146.60,335.54 L147.10,338.86 L147.60,334.50 L148.10,341.26 L148.60,340.28 L149.10,349.53 L149.60,326.79 L150.10,331.27 L150.60,339.16 L151.10,325.72 L151.60,333.89 L152.10,331.03 L152.60,322.22 L153.10,333.25 L153.60,322.22 L154.10,329.60 L154.60,343.46 L155.10,333.36 L155.60,321.29 L156.10,308.41 L156.60,306.34 L157.10,310.80 L157.60,306.77 L158.10,319.31 L158.60,287.40 L159.10,304.85 L159.60,303.19 L160.10,288.70 L160.60,295.07 L161.10,277.24 L161.60,287.24 L162.10,290.95 L162.60,279.18 L163.10,271.30 L163.60,274.73 L164.10,276.00 L164.60,278.56 L165.10,272.32 L165.60,282.04 L166.10,277.70 L166.60,276.14 L167.10,279.81 L167.60,274.60 L168.10,274.68 L168.60,273.62 L169.10,290.22 L169.60,271.10 L170.10,297.56 L170.60,272.75 L171.10,271.00 L171.60,286.95 L172.10,297.48 L172.60,281.20 L173.10,289.29 L173.60,302.44 L174.10,305.97 L174.60,309.12 L175.10,306.01 L175.60,307.89 L176.10,296.90 L176.60,311.89 L177.10,320.85 L177.60,334.75 L178.10,333.02 L178.60,330.86 L179.10,319.57 L179.60,329.74 L180.10,336.43 L180.60,328.90 L181.10,331.90 L181.60,334.22 L182.10,342.10 L182.60,345.23 L183.10,346.31 L183.60,346.17 L184.10,346.72 L184.60,350.02 L185.10,345.84 L185.60,348.00 L186.10,355.54 L186.60,353.78 L187.10,353.87 L187.60,345.70 L188.10,350.96 L188.60,352.94 L189.10,349.09 L189.60,361.78 L190.10,355.58 L190.60,355.76 L191.10,358.55 L191.60,354.84 L192.10,349.90 L192.60,357.94 L193.10,361.00 L193.60,361.76 L194.10,364.52 L194.60,367.62 L195.10,363.28 L195.60,366.47 L196.10,367.26 L196.60,363.21 L197.10,366.77 L197.60,366.27 L198.10,367.40 L198.60,369.18 L199.10,369.18 L199.60,371.64 L200.10,371.42 L200.60,371.24 L201.10,370.36 L201.60,370.25 L202.10,370.90 L202.60,374.03 L203.10,372.86 L203.60,370.58 L204.10,372.18 L204.60,373.14 L205.10,374.05 L205.60,371.51 L206.10,373.02 L206.60,374.00 L207.10,372.66 L207.60,374.09 L208.10,374.68 L208.60,374.36 L209.10,373.64 L209.60,373.46 L210.10,374.21 L210.60,374.60 L211.10,374.30 L211.60,374.68 L212.10,375.10 L212.60,375.10 L213.10,375.10 L213.60,375.10 L214.10,375.10 L214.60,375.10 L215.10,375.10 L215.60,375.10 L216.10,375.10 L216.60,375.10 L217.10,375.10 L217.60,375.10 L218.10,375.10 L218.60,375.10 L219.10,375.10 L219.60,375.10 L220.10,375.10 L220.60,375.10 L221.10,375.10 L221.60,375.10 L222.10,375.10 L222.60,375.10 L223.10,375.10 L223.60,375.10 L224.10,375.10 L224.60,375.10 L225.10,375.10 L225.60,375.10 L226.10,375.10 L226.60,375.10 L227.10,375.10 L227.60,375.10 L228.10,375.10 L228.60,375.10 L229.10,375.10 L229.60,375.10 L230.10,375.10 L230.60,375.10 L231.10,375.10 L231.60,375.10 L232.10,375.10 L232.60,375.10 L233.10,375.10 L233.60,375.10 L234.10,375.10 L234.60,375.10 L235.10,375.10 L235.60,375.10 L236.10,375.10 L236.60,375.10 L237.10,375.10 L237.60,375.10 L238.10,375.10 L238.60,375.10 L239.10,375.10 L239.60,375.10 L240.10,375.10 L240.60,375.10 L241.10,375.10 L241.60,375.10 L242.10,375.10 L242.60,375.10 L243.10,375.10 L243.60,375.10 L244.10,375.10 L244.60,375.10 L245.10,375.10 L245.60,375.10 L246.10,375.10 L246.60,375.10 L247.10,375.10 L247.60,375.10 L248.10,375.10 L248.60,375.10 L249.10,375.10 L249.60,375.10 L250.10,375.10 L250.60,375.10 L251.10,375.10 L251.60,375.10 L252.10,375.10 L252.60,375.10 L253.10,375.10 L253.60,375.10 L254.10,375.10 L254.60,375.10 L255.10,375.10 L255.60,375.10 L256.10,375.10 L256.60,375.10 L257.10,375.10 L257.60,375.10 Z" fill="#838383" stroke="#111" stroke-width="0.75" stroke-linejoin="bevel"/>
<path d="M166.90,263.60 V375.10 M180.50,263.60 V375.10 M180.50,337.60 H257.80" stroke="#3a3a3a" stroke-width="0.9" fill="none"/>
<path d="M138.80,263.60 H257.80 V375.10" stroke="#555" stroke-width="1" fill="none"/>
<path d="M138.80,263.10 V375.60" stroke="#222" stroke-width="1.4" fill="none"/>
<path d="M138.80,375.10 H257.80" stroke="#444" stroke-width="1" fill="none"/>
<path d="M140.51,375.10 v2.60 M144.26,375.10 v2.60 M147.17,375.10 v2.60 M149.54,375.10 v2.60 M151.55,375.10 v2.60 M153.29,375.10 v2.60 M154.83,375.10 v2.60 M156.20,375.10 v5.00 M165.23,375.10 v2.60 M170.51,375.10 v2.60 M174.26,375.10 v2.60 M177.17,375.10 v2.60 M179.54,375.10 v2.60 M181.55,375.10 v2.60 M183.29,375.10 v2.60 M184.83,375.10 v2.60 M186.20,375.10 v5.00 M195.23,375.10 v2.60 M200.51,375.10 v2.60 M204.26,375.10 v2.60 M207.17,375.10 v2.60 M209.54,375.10 v2.60 M211.55,375.10 v2.60 M213.29,375.10 v2.60 M214.83,375.10 v2.60 M216.20,375.10 v5.00 M225.23,375.10 v2.60 M230.51,375.10 v2.60 M234.26,375.10 v2.60 M237.17,375.10 v2.60 M239.54,375.10 v2.60 M241.55,375.10 v2.60 M243.29,375.10 v2.60 M244.83,375.10 v2.60 M246.20,375.10 v5.00 M255.23,375.10 v2.60 " stroke="#333" stroke-width="0.8" fill="none"/>
<path d="M138.80,269.20 h-5.00 M138.80,271.55 h-2.50 M138.80,273.90 h-2.50 M138.80,276.25 h-2.50 M138.80,278.60 h-2.50 M138.80,280.95 h-5.00 M138.80,283.30 h-2.50 M138.80,285.65 h-2.50 M138.80,288.00 h-2.50 M138.80,290.35 h-2.50 M138.80,292.70 h-5.00 M138.80,295.05 h-2.50 M138.80,297.40 h-2.50 M138.80,299.75 h-2.50 M138.80,302.10 h-2.50 M138.80,304.45 h-5.00 M138.80,306.80 h-2.50 M138.80,309.15 h-2.50 M138.80,311.50 h-2.50 M138.80,313.85 h-2.50 M138.80,316.20 h-5.00 M138.80,318.55 h-2.50 M138.80,320.90 h-2.50 M138.80,323.25 h-2.50 M138.80,325.60 h-2.50 M138.80,327.95 h-5.00 M138.80,330.30 h-2.50 M138.80,332.65 h-2.50 M138.80,335.00 h-2.50 M138.80,337.35 h-2.50 M138.80,339.70 h-5.00 M138.80,342.05 h-2.50 M138.80,344.40 h-2.50 M138.80,346.75 h-2.50 M138.80,349.10 h-2.50 M138.80,351.45 h-5.00 M138.80,353.80 h-2.50 M138.80,356.15 h-2.50 M138.80,358.50 h-2.50 M138.80,360.85 h-2.50 M138.80,363.20 h-5.00 M138.80,365.55 h-2.50 M138.80,367.90 h-2.50 M138.80,370.25 h-2.50 M138.80,372.60 h-2.50 M138.80,266.85 h-2.5 M138.80,264.50 h-2.5 " stroke="#333" stroke-width="0.8" fill="none"/>
<path d="M267.70,375.10 L267.70,370.95 L268.20,364.78 L268.70,363.70 L269.20,359.43 L269.70,359.76 L270.20,363.43 L270.70,356.62 L271.20,349.90 L271.70,362.00 L272.20,360.28 L272.70,361.90 L273.20,360.31 L273.70,351.51 L274.20,366.49 L274.70,353.11 L275.20,355.23 L275.70,357.99 L276.20,356.06 L276.70,355.26 L277.20,350.83 L277.70,344.68 L278.20,353.36 L278.70,349.23 L279.20,357.90 L279.70,350.77 L280.20,345.65 L280.70,349.17 L281.20,347.26 L281.70,338.06 L282.20,360.97 L282.70,342.07 L283.20,342.88 L283.70,345.19 L284.20,336.26 L284.70,333.85 L285.20,353.06 L285.70,348.00 L286.20,339.19 L286.70,338.66 L287.20,338.64 L287.70,324.52 L288.20,317.80 L288.70,324.59 L289.20,326.85 L289.70,326.57 L290.20,320.00 L290.70,334.90 L291.20,318.14 L291.70,319.78 L292.20,312.12 L292.70,315.20 L293.20,314.52 L293.70,324.86 L294.20,293.75 L294.70,298.44 L295.20,298.01 L295.70,295.40 L296.20,296.14 L296.70,294.06 L297.20,299.28 L297.70,295.36 L298.20,270.40 L298.70,284.85 L299.20,297.62 L299.70,273.02 L300.20,271.30 L300.70,292.50 L301.20,272.50 L301.70,275.76 L302.20,288.73 L302.70,291.98 L303.20,289.79 L303.70,281.50 L304.20,278.70 L304.70,292.16 L305.20,292.39 L305.70,293.23 L306.20,288.38 L306.70,293.60 L307.20,296.26 L307.70,289.99 L308.20,266.20 L308.70,304.08 L309.20,277.23 L309.70,300.87 L310.20,285.86 L310.70,299.07 L311.20,279.01 L311.70,292.01 L312.20,286.66 L312.70,279.50 L313.20,264.80 L313.70,299.03 L314.20,289.65 L314.70,286.89 L315.20,324.80 L315.70,287.47 L316.20,281.03 L316.70,294.88 L317.20,280.21 L317.70,291.62 L318.20,290.98 L318.70,285.23 L319.20,275.20 L319.70,285.63 L320.20,291.83 L320.70,287.25 L321.20,271.25 L321.70,276.74 L322.20,295.72 L322.70,277.65 L323.20,267.60 L323.70,289.16 L324.20,285.01 L324.70,295.02 L325.20,287.97 L325.70,300.87 L326.20,292.70 L326.70,301.20 L327.20,297.95 L327.70,287.55 L328.20,301.37 L328.70,313.69 L329.20,303.28 L329.70,303.85 L330.20,293.55 L330.70,297.23 L331.20,309.76 L331.70,320.32 L332.20,309.35 L332.70,310.80 L333.20,310.50 L333.70,320.05 L334.20,314.85 L334.70,328.22 L335.20,338.80 L335.70,320.84 L336.20,324.06 L336.70,333.46 L337.20,342.24 L337.70,338.32 L338.20,342.58 L338.70,340.87 L339.20,348.67 L339.70,348.00 L340.20,342.28 L340.70,347.75 L341.20,352.25 L341.70,356.39 L342.20,358.59 L342.70,360.93 L343.20,366.49 L343.70,364.88 L344.20,363.44 L344.70,362.40 L345.20,363.42 L345.70,365.01 L346.20,372.61 L346.70,368.93 L347.20,370.65 L347.70,371.32 L348.20,373.39 L348.70,370.80 L349.20,369.88 L349.70,370.50 L350.20,375.10 L350.70,373.39 L351.20,373.35 L351.70,372.71 L352.20,372.57 L352.70,373.62 L353.20,373.85 L353.70,372.32 L354.20,373.21 L354.70,373.94 L355.20,374.70 L355.70,374.64 L356.20,375.10 L356.70,375.10 L357.20,375.10 L357.70,375.10 L358.20,375.10 L358.70,375.10 L359.20,375.10 L359.70,375.10 L360.20,375.10 L360.70,375.10 L361.20,375.10 L361.70,375.10 L362.20,375.10 L362.70,375.10 L363.20,375.10 L363.70,375.10 L364.20,375.10 L364.70,375.10 L365.20,375.10 L365.70,375.10 L366.20,375.10 L366.70,375.10 L367.20,375.10 L367.70,375.10 L368.20,375.10 L368.70,375.10 L369.20,375.10 L369.70,375.10 L370.20,375.10 L370.70,375.10 L371.20,375.10 L371.70,375.10 L372.20,375.10 L372.70,375.10 L373.20,375.10 L373.70,375.10 L374.20,375.10 L374.70,375.10 L375.20,375.10 L375.70,375.10 L376.20,375.10 L376.70,375.10 L377.20,375.10 L377.70,375.10 L378.20,375.10 L378.70,375.10 L379.20,375.10 L379.70,375.10 L380.20,375.10 L380.70,375.10 L381.20,375.10 L381.70,375.10 L382.20,375.10 L382.70,375.10 L383.20,375.10 L383.70,375.10 L384.20,375.10 L384.70,375.10 L385.20,375.10 L385.70,375.10 Z" fill="#838383" stroke="#111" stroke-width="0.75" stroke-linejoin="bevel"/>
<path d="M308.60,263.60 V375.10 M308.60,335.20 H385.90" stroke="#3a3a3a" stroke-width="0.9" fill="none"/>
<path d="M267.40,263.60 H385.90 V375.10" stroke="#555" stroke-width="1" fill="none"/>
<path d="M267.40,263.10 V375.60" stroke="#222" stroke-width="1.4" fill="none"/>
<path d="M267.40,375.10 H385.90" stroke="#444" stroke-width="1" fill="none"/>
<path d="M269.11,375.10 v2.60 M272.86,375.10 v2.60 M275.77,375.10 v2.60 M278.14,375.10 v2.60 M280.15,375.10 v2.60 M281.89,375.10 v2.60 M283.43,375.10 v2.60 M284.80,375.10 v5.00 M293.83,375.10 v2.60 M299.11,375.10 v2.60 M302.86,375.10 v2.60 M305.77,375.10 v2.60 M308.14,375.10 v2.60 M310.15,375.10 v2.60 M311.89,375.10 v2.60 M313.43,375.10 v2.60 M314.80,375.10 v5.00 M323.83,375.10 v2.60 M329.11,375.10 v2.60 M332.86,375.10 v2.60 M335.77,375.10 v2.60 M338.14,375.10 v2.60 M340.15,375.10 v2.60 M341.89,375.10 v2.60 M343.43,375.10 v2.60 M344.80,375.10 v5.00 M353.83,375.10 v2.60 M359.11,375.10 v2.60 M362.86,375.10 v2.60 M365.77,375.10 v2.60 M368.14,375.10 v2.60 M370.15,375.10 v2.60 M371.89,375.10 v2.60 M373.43,375.10 v2.60 M374.80,375.10 v5.00 M383.83,375.10 v2.60 " stroke="#333" stroke-width="0.8" fill="none"/>
<path d="M267.40,268.50 h-5.00 M267.40,270.90 h-2.50 M267.40,273.30 h-2.50 M267.40,275.70 h-2.50 M267.40,278.10 h-2.50 M267.40,280.50 h-5.00 M267.40,282.90 h-2.50 M267.40,285.30 h-2.50 M267.40,287.70 h-2.50 M267.40,290.10 h-2.50 M267.40,292.50 h-5.00 M267.40,294.90 h-2.50 M267.40,297.30 h-2.50 M267.40,299.70 h-2.50 M267.40,302.10 h-2.50 M267.40,304.50 h-5.00 M267.40,306.90 h-2.50 M267.40,309.30 h-2.50 M267.40,311.70 h-2.50 M267.40,314.10 h-2.50 M267.40,316.50 h-5.00 M267.40,318.90 h-2.50 M267.40,321.30 h-2.50 M267.40,323.70 h-2.50 M267.40,326.10 h-2.50 M267.40,328.50 h-5.00 M267.40,330.90 h-2.50 M267.40,333.30 h-2.50 M267.40,335.70 h-2.50 M267.40,338.10 h-2.50 M267.40,340.50 h-5.00 M267.40,342.90 h-2.50 M267.40,345.30 h-2.50 M267.40,347.70 h-2.50 M267.40,350.10 h-2.50 M267.40,352.50 h-5.00 M267.40,354.90 h-2.50 M267.40,357.30 h-2.50 M267.40,359.70 h-2.50 M267.40,362.10 h-2.50 M267.40,364.50 h-5.00 M267.40,366.90 h-2.50 M267.40,369.30 h-2.50 M267.40,371.70 h-2.50 M267.40,374.10 h-2.50 M267.40,266.10 h-2.5 " stroke="#333" stroke-width="0.8" fill="none"/>
<path d="M395.80,375.10 L395.80,363.14 L396.30,364.91 L396.80,367.62 L397.30,362.97 L397.80,366.81 L398.30,368.53 L398.80,365.68 L399.30,362.28 L399.80,354.00 L400.30,363.14 L400.80,366.98 L401.30,362.68 L401.80,356.06 L402.30,363.33 L402.80,364.85 L403.30,357.33 L403.80,355.43 L404.30,359.43 L404.80,356.59 L405.30,359.86 L405.80,359.34 L406.30,355.76 L406.80,356.84 L407.30,351.14 L407.80,345.70 L408.30,353.80 L408.80,349.17 L409.30,347.36 L409.80,340.87 L410.30,345.63 L410.80,349.81 L411.30,340.44 L411.80,347.17 L412.30,343.27 L412.80,334.97 L413.30,350.91 L413.80,332.53 L414.30,339.76 L414.80,342.68 L415.30,337.82 L415.80,360.76 L416.30,336.37 L416.80,337.22 L417.30,339.64 L417.80,344.66 L418.30,324.70 L418.80,327.75 L419.30,337.15 L419.80,313.92 L420.30,318.51 L420.80,332.49 L421.30,309.40 L421.80,319.30 L422.30,321.08 L422.80,316.31 L423.30,307.80 L423.80,305.82 L424.30,309.57 L424.80,288.50 L425.30,322.90 L425.80,299.42 L426.30,305.82 L426.80,286.18 L427.30,299.57 L427.80,300.31 L428.30,274.60 L428.80,300.29 L429.30,291.55 L429.80,301.48 L430.30,284.67 L430.80,317.61 L431.30,286.24 L431.80,282.90 L432.30,293.12 L432.80,288.57 L433.30,289.27 L433.80,296.38 L434.30,278.18 L434.80,276.75 L435.30,284.46 L435.80,282.68 L436.30,287.30 L436.80,266.20 L437.30,289.40 L437.80,273.83 L438.30,284.18 L438.80,281.42 L439.30,292.26 L439.80,283.39 L440.30,275.20 L440.80,287.91 L441.30,295.72 L441.80,273.95 L442.30,293.63 L442.80,284.55 L443.30,265.69 L443.80,272.98 L444.30,289.44 L444.80,279.85 L445.30,281.84 L445.80,263.90 L446.30,271.07 L446.80,267.60 L447.30,263.90 L447.80,275.38 L448.30,263.90 L448.80,267.92 L449.30,276.96 L449.80,279.16 L450.30,267.60 L450.80,273.15 L451.30,283.12 L451.80,276.85 L452.30,275.81 L452.80,281.68 L453.30,274.50 L453.80,276.90 L454.30,275.43 L454.80,264.80 L455.30,286.68 L455.80,296.02 L456.30,300.00 L456.80,287.82 L457.30,286.22 L457.80,287.01 L458.30,285.93 L458.80,301.68 L459.30,296.00 L459.80,287.05 L460.30,302.63 L460.80,301.37 L461.30,303.71 L461.80,313.05 L462.30,307.90 L462.80,323.68 L463.30,319.29 L463.80,316.62 L464.30,326.55 L464.80,333.01 L465.30,312.63 L465.80,319.68 L466.30,326.17 L466.80,326.17 L467.30,328.60 L467.80,341.72 L468.30,343.99 L468.80,351.19 L469.30,348.43 L469.80,348.84 L470.30,348.27 L470.80,353.51 L471.30,354.67 L471.80,350.17 L472.30,349.76 L472.80,358.34 L473.30,366.82 L473.80,361.93 L474.30,360.09 L474.80,362.82 L475.30,364.55 L475.80,364.59 L476.30,363.73 L476.80,364.62 L477.30,370.69 L477.80,372.86 L478.30,373.07 L478.80,373.69 L479.30,370.02 L479.80,370.66 L480.30,373.07 L480.80,372.83 L481.30,373.23 L481.80,371.49 L482.30,372.51 L482.80,371.08 L483.30,373.59 L483.80,374.46 L484.30,373.67 L484.80,373.86 L485.30,373.48 L485.80,373.69 L486.30,374.52 L486.80,375.04 L487.30,374.39 L487.80,375.10 L488.30,375.10 L488.80,375.10 L489.30,375.10 L489.80,375.10 L490.30,375.10 L490.80,375.10 L491.30,375.10 L491.80,375.10 L492.30,375.10 L492.80,375.10 L493.30,375.10 L493.80,375.10 L494.30,375.10 L494.80,375.10 L495.30,375.10 L495.80,375.10 L496.30,375.10 L496.80,375.10 L497.30,375.10 L497.80,375.10 L498.30,375.10 L498.80,375.10 L499.30,375.10 L499.80,375.10 L500.30,375.10 L500.80,375.10 L501.30,375.10 L501.80,375.10 L502.30,375.10 L502.80,375.10 L503.30,375.10 L503.80,375.10 L504.30,375.10 L504.80,375.10 L505.30,375.10 L505.80,375.10 L506.30,375.10 L506.80,375.10 L507.30,375.10 L507.80,375.10 L508.30,375.10 L508.80,375.10 L509.30,375.10 L509.80,375.10 L510.30,375.10 L510.80,375.10 L511.30,375.10 L511.80,375.10 L512.30,375.10 L512.80,375.10 L513.30,375.10 L513.80,375.10 L514.30,375.10 Z" fill="#838383" stroke="#111" stroke-width="0.75" stroke-linejoin="bevel"/>
<path d="M437.30,263.60 V375.10 M437.30,324.40 H514.70" stroke="#3a3a3a" stroke-width="0.9" fill="none"/>
<path d="M395.50,263.60 H514.70 V375.10" stroke="#555" stroke-width="1" fill="none"/>
<path d="M395.50,263.10 V375.60" stroke="#222" stroke-width="1.4" fill="none"/>
<path d="M395.50,375.10 H514.70" stroke="#444" stroke-width="1" fill="none"/>
<path d="M397.21,375.10 v2.60 M400.96,375.10 v2.60 M403.87,375.10 v2.60 M406.24,375.10 v2.60 M408.25,375.10 v2.60 M409.99,375.10 v2.60 M411.53,375.10 v2.60 M412.90,375.10 v5.00 M421.93,375.10 v2.60 M427.21,375.10 v2.60 M430.96,375.10 v2.60 M433.87,375.10 v2.60 M436.24,375.10 v2.60 M438.25,375.10 v2.60 M439.99,375.10 v2.60 M441.53,375.10 v2.60 M442.90,375.10 v5.00 M451.93,375.10 v2.60 M457.21,375.10 v2.60 M460.96,375.10 v2.60 M463.87,375.10 v2.60 M466.24,375.10 v2.60 M468.25,375.10 v2.60 M469.99,375.10 v2.60 M471.53,375.10 v2.60 M472.90,375.10 v5.00 M481.93,375.10 v2.60 M487.21,375.10 v2.60 M490.96,375.10 v2.60 M493.87,375.10 v2.60 M496.24,375.10 v2.60 M498.25,375.10 v2.60 M499.99,375.10 v2.60 M501.53,375.10 v2.60 M502.90,375.10 v5.00 M511.93,375.10 v2.60 " stroke="#333" stroke-width="0.8" fill="none"/>
<path d="M395.50,268.50 h-5.00 M395.50,270.90 h-2.50 M395.50,273.30 h-2.50 M395.50,275.70 h-2.50 M395.50,278.10 h-2.50 M395.50,280.50 h-5.00 M395.50,282.90 h-2.50 M395.50,285.30 h-2.50 M395.50,287.70 h-2.50 M395.50,290.10 h-2.50 M395.50,292.50 h-5.00 M395.50,294.90 h-2.50 M395.50,297.30 h-2.50 M395.50,299.70 h-2.50 M395.50,302.10 h-2.50 M395.50,304.50 h-5.00 M395.50,306.90 h-2.50 M395.50,309.30 h-2.50 M395.50,311.70 h-2.50 M395.50,314.10 h-2.50 M395.50,316.50 h-5.00 M395.50,318.90 h-2.50 M395.50,321.30 h-2.50 M395.50,323.70 h-2.50 M395.50,326.10 h-2.50 M395.50,328.50 h-5.00 M395.50,330.90 h-2.50 M395.50,333.30 h-2.50 M395.50,335.70 h-2.50 M395.50,338.10 h-2.50 M395.50,340.50 h-5.00 M395.50,342.90 h-2.50 M395.50,345.30 h-2.50 M395.50,347.70 h-2.50 M395.50,350.10 h-2.50 M395.50,352.50 h-5.00 M395.50,354.90 h-2.50 M395.50,357.30 h-2.50 M395.50,359.70 h-2.50 M395.50,362.10 h-2.50 M395.50,364.50 h-5.00 M395.50,366.90 h-2.50 M395.50,369.30 h-2.50 M395.50,371.70 h-2.50 M395.50,374.10 h-2.50 M395.50,266.10 h-2.5 " stroke="#333" stroke-width="0.8" fill="none"/>
<text x="102.00" y="67.30" font-size="16.1" text-anchor="middle" fill="#111" stroke="#111" stroke-width="0.1" >1.7</text>
<text x="102.00" y="87.30" font-size="16.1" text-anchor="middle" fill="#111" stroke="#111" stroke-width="0.1" >(161)</text>
<text x="234.40" y="68.10" font-size="16.1" text-anchor="middle" fill="#111" stroke="#111" stroke-width="0.1" >4.6</text>
<text x="234.40" y="88.10" font-size="16.1" text-anchor="middle" fill="#111" stroke="#111" stroke-width="0.1" >(96)</text>
<text x="359.80" y="67.60" font-size="16.1" text-anchor="middle" fill="#111" stroke="#111" stroke-width="0.1" >7.7</text>
<text x="359.80" y="87.60" font-size="16.1" text-anchor="middle" fill="#111" stroke="#111" stroke-width="0.1" >(127)</text>
<text x="489.70" y="67.40" font-size="16.1" text-anchor="middle" fill="#111" stroke="#111" stroke-width="0.1" >24.2</text>
<text x="489.70" y="87.40" font-size="16.1" text-anchor="middle" fill="#111" stroke="#111" stroke-width="0.1" >(397)</text>
<text x="103.00" y="282.30" font-size="16.1" text-anchor="middle" fill="#111" stroke="#111" stroke-width="0.1" >8.3</text>
<text x="103.00" y="302.30" font-size="16.1" text-anchor="middle" fill="#111" stroke="#111" stroke-width="0.1" >(241)</text>
<text x="233.30" y="282.30" font-size="16.1" text-anchor="middle" fill="#111" stroke="#111" stroke-width="0.1" >11.8</text>
<text x="233.30" y="302.30" font-size="16.1" text-anchor="middle" fill="#111" stroke="#111" stroke-width="0.1" >(293)</text>
<text x="358.70" y="282.00" font-size="16.1" text-anchor="middle" fill="#111" stroke="#111" stroke-width="0.1" >47.2</text>
<text x="358.70" y="302.00" font-size="16.1" text-anchor="middle" fill="#111" stroke="#111" stroke-width="0.1" >(1318)</text>
<text x="486.30" y="281.40" font-size="16.1" text-anchor="middle" fill="#111" stroke="#111" stroke-width="0.1" >53.4</text>
<text x="486.30" y="301.40" font-size="16.1" text-anchor="middle" fill="#111" stroke="#111" stroke-width="0.1" >(1509)</text>
<text x="70.20" y="28.60" font-size="15.8" text-anchor="middle" fill="#111" stroke="#111" stroke-width="0.1" >Media</text>
<text x="195.70" y="28.40" font-size="15.8" text-anchor="middle" fill="#111" stroke="#111" stroke-width="0.1" >TU167</text>
<text x="328.50" y="14.40" font-size="15.8" text-anchor="middle" fill="#111" stroke="#111" stroke-width="0.1" >TU167</text>
<text x="327.70" y="32.10" font-size="15.8" text-anchor="middle" fill="#111" stroke="#111" stroke-width="0.1" >hIgG1</text>
<text x="456.60" y="16.30" font-size="15.8" text-anchor="middle" fill="#111" stroke="#111" stroke-width="0.1" >TU167</text>
<text x="457.60" y="35.60" font-size="15.8" text-anchor="middle" fill="#111" stroke="#111" stroke-width="0.1" >Cetuximab</text>
<text x="69.50" y="240.60" font-size="15.8" text-anchor="middle" fill="#111" stroke="#111" stroke-width="0.1" >Media</text>
<text x="197.60" y="240.60" font-size="15.8" text-anchor="middle" fill="#111" stroke="#111" stroke-width="0.1" >Rituximab</text>
<text x="327.00" y="240.70" font-size="15.8" text-anchor="middle" fill="#111" stroke="#111" stroke-width="0.1" >Zometa</text>
<text x="454.00" y="229.20" font-size="15.8" text-anchor="middle" fill="#111" stroke="#111" stroke-width="0.1" >Rituximab</text>
<text x="453.50" y="247.70" font-size="15.8" text-anchor="middle" fill="#111" stroke="#111" stroke-width="0.1" >Zometa</text>
<text x="0.50" y="19.00" font-size="25" text-anchor="start" font-weight="bold" fill="#000" stroke="#000" stroke-width="0.1" >A</text>
<text x="0.80" y="234.80" font-size="25" text-anchor="start" font-weight="bold" fill="#000" stroke="#000" stroke-width="0.1" >B</text>
<text x="1.20" y="451.00" font-size="24.5" text-anchor="start" font-weight="bold" fill="#000" stroke="#000" stroke-width="0.1" >C</text>
<text x="15.20" y="188.50" font-size="20" text-anchor="start" fill="#111" stroke="#111" stroke-width="0.1" >CD137</text>
<text x="15.20" y="404.60" font-size="20.3" text-anchor="start" fill="#111" stroke="#111" stroke-width="0.1" >CD69</text>
<path d="M94,181.7 H477" stroke="#000" stroke-width="3"/>
<path d="M475,175.8 L499.5,181.7 L475,187.6 Z" fill="#000"/>
<path d="M84,397.3 H467" stroke="#000" stroke-width="2.6"/>
<path d="M465.3,391.3 L490,397.2 L465.3,403.1 Z" fill="#000"/>
<text x="158.80" y="447.50" font-size="20.6" text-anchor="middle" fill="#111" stroke="#111" stroke-width="0.1" >Direct NK cytotoxicity</text>
<text x="415.60" y="449.20" font-size="20.6" text-anchor="middle" fill="#111" stroke="#111" stroke-width="0.1" >NK ADCC</text>
<text x="159.20" y="471.20" font-size="13.3" text-anchor="middle" fill="#111" stroke="#111" stroke-width="0.1" >Target: TU167</text>
<text x="413.30" y="473.00" font-size="13.3" text-anchor="middle" fill="#111" stroke="#111" stroke-width="0.1" >Target: TU167</text>
<text x="416.30" y="488.30" font-size="13.8" text-anchor="middle" fill="#111" stroke="#111" stroke-width="0.1" >Ab: Cetuximab</text>
<text x="160.20" y="654.20" font-size="13.3" text-anchor="middle" fill="#111" stroke="#111" stroke-width="0.1" >Target: Ramos</text>
<text x="416.90" y="654.00" font-size="13.5" text-anchor="middle" fill="#111" stroke="#111" stroke-width="0.1" >Target: Ramos</text>
<text x="414.20" y="671.00" font-size="13.6" text-anchor="middle" fill="#111" stroke="#111" stroke-width="0.1" >Ab: Rituximab</text>
<text x="0" y="0" font-size="16.3" text-anchor="middle" fill="#111" stroke="#111" stroke-width="0.3" transform="translate(14.6,555.5) rotate(-90)">Cytotoxicity (%)</text>
<text x="0" y="0" font-size="16.3" text-anchor="middle" fill="#111" stroke="#111" stroke-width="0.3" transform="translate(14.6,719.4) rotate(-90)">Cytotoxicity (%)</text>
<text x="157.90" y="822.30" font-size="16" text-anchor="middle" fill="#111" stroke="#111" stroke-width="0.1" >E:T ratio</text>
<text x="408.20" y="822.30" font-size="16" text-anchor="middle" fill="#111" stroke="#111" stroke-width="0.1" >E:T ratio</text>
<path d="M49.60,494.80 V615.70 M46.20,612.70 H269.38 M46.20,612.70 H49.60 M46.20,595.86 H49.60 M46.20,579.01 H49.60 M46.20,562.17 H49.60 M46.20,545.33 H49.60 M46.20,528.49 H49.60 M46.20,511.64 H49.60 M46.20,494.80 H49.60 M86.23,612.70 V615.70 M122.86,612.70 V615.70 M159.49,612.70 V615.70 M196.12,612.70 V615.70 M232.75,612.70 V615.70 M269.38,612.70 V615.70 " stroke="#111" stroke-width="1.1" fill="none"/>
<text x="41.30" y="616.90" font-size="9.4" text-anchor="end" fill="#2a2a2a" stroke="#2a2a2a" stroke-width="0.08" >0</text>
<text x="41.30" y="600.06" font-size="9.4" text-anchor="end" fill="#2a2a2a" stroke="#2a2a2a" stroke-width="0.08" >10</text>
<text x="41.30" y="583.21" font-size="9.4" text-anchor="end" fill="#2a2a2a" stroke="#2a2a2a" stroke-width="0.08" >20</text>
<text x="41.30" y="566.37" font-size="9.4" text-anchor="end" fill="#2a2a2a" stroke="#2a2a2a" stroke-width="0.08" >30</text>
<text x="41.30" y="549.53" font-size="9.4" text-anchor="end" fill="#2a2a2a" stroke="#2a2a2a" stroke-width="0.08" >40</text>
<text x="41.30" y="532.69" font-size="9.4" text-anchor="end" fill="#2a2a2a" stroke="#2a2a2a" stroke-width="0.08" >50</text>
<text x="41.30" y="515.84" font-size="9.4" text-anchor="end" fill="#2a2a2a" stroke="#2a2a2a" stroke-width="0.08" >60</text>
<text x="41.30" y="499.00" font-size="9.4" text-anchor="end" fill="#2a2a2a" stroke="#2a2a2a" stroke-width="0.08" >70</text>
<text x="69.22" y="632.40" font-size="10.0" text-anchor="middle" fill="#2a2a2a" stroke="#2a2a2a" stroke-width="0.08" >0.35:1</text>
<text x="105.85" y="632.40" font-size="10.0" text-anchor="middle" fill="#2a2a2a" stroke="#2a2a2a" stroke-width="0.08" >0.7:1</text>
<text x="142.48" y="632.40" font-size="10.0" text-anchor="middle" fill="#2a2a2a" stroke="#2a2a2a" stroke-width="0.08" >1.5:1</text>
<text x="179.11" y="632.40" font-size="10.0" text-anchor="middle" fill="#2a2a2a" stroke="#2a2a2a" stroke-width="0.08" >3:1</text>
<text x="215.74" y="632.40" font-size="10.0" text-anchor="middle" fill="#2a2a2a" stroke="#2a2a2a" stroke-width="0.08" >6:1</text>
<text x="252.37" y="632.40" font-size="10.0" text-anchor="middle" fill="#2a2a2a" stroke="#2a2a2a" stroke-width="0.08" >12:1</text>
<path d="M141.18,547.90 V583.50 M139.58,547.90 h3.2 M139.58,583.50 h3.2 M214.44,540.30 V548.80 M212.84,540.30 h3.2 M212.84,548.80 h3.2 M251.06,507.30 V518.20 M249.47,507.30 h3.2 M249.47,518.20 h3.2 " stroke="#555" stroke-width="0.7" fill="none"/>
<path d="M67.92,607.80 L104.55,605.30 L141.18,600.00 L177.81,593.20 L214.44,581.60 L251.06,565.50" stroke="#222" stroke-width="1.1" fill="none"/>
<path d="M67.92,602.90 L104.55,599.30 L141.18,587.30 L177.81,570.10 L214.44,544.70 L251.06,523.50" stroke="#222" stroke-width="1.1" fill="none"/>
<path d="M67.92,601.00 L104.55,592.60 L141.18,565.00 L177.81,552.80 L214.44,529.20 L251.06,513.10" stroke="#222" stroke-width="1.1" fill="none"/>
<circle cx="67.92" cy="607.80" r="2.60" fill="#000"/>
<circle cx="104.55" cy="605.30" r="2.60" fill="#000"/>
<circle cx="141.18" cy="600.00" r="2.60" fill="#000"/>
<circle cx="177.81" cy="593.20" r="2.60" fill="#000"/>
<circle cx="214.44" cy="581.60" r="2.60" fill="#000"/>
<circle cx="251.06" cy="565.50" r="2.60" fill="#000"/>
<path d="M67.92,599.94 L70.81,604.88 L65.02,604.88 Z" fill="#000"/>
<path d="M104.55,596.34 L107.45,601.28 L101.65,601.28 Z" fill="#000"/>
<path d="M141.18,584.34 L144.08,589.28 L138.28,589.28 Z" fill="#000"/>
<path d="M177.81,567.14 L180.71,572.08 L174.91,572.08 Z" fill="#000"/>
<path d="M214.44,541.74 L217.34,546.68 L211.53,546.68 Z" fill="#000"/>
<path d="M251.06,520.54 L253.97,525.48 L248.16,525.48 Z" fill="#000"/>
<rect x="65.32" y="598.40" width="5.20" height="5.20" fill="#000"/>
<rect x="101.95" y="590.00" width="5.20" height="5.20" fill="#000"/>
<rect x="138.58" y="562.40" width="5.20" height="5.20" fill="#000"/>
<rect x="175.21" y="550.20" width="5.20" height="5.20" fill="#000"/>
<rect x="211.84" y="526.60" width="5.20" height="5.20" fill="#000"/>
<rect x="248.47" y="510.50" width="5.20" height="5.20" fill="#000"/>
<path d="M105.20,583.00 L105.20,579.30 M105.20,583.00 L108.72,581.86 M105.20,583.00 L107.37,585.99 M105.20,583.00 L103.03,585.99 M105.20,583.00 L101.68,581.86 " stroke="#111" stroke-width="1.5" stroke-linecap="butt" fill="none"/>
<path d="M178.30,544.90 L178.30,541.20 M178.30,544.90 L181.82,543.76 M178.30,544.90 L180.47,547.89 M178.30,544.90 L176.13,547.89 M178.30,544.90 L174.78,543.76 " stroke="#111" stroke-width="1.5" stroke-linecap="butt" fill="none"/>
<path d="M215.20,518.80 L215.20,515.10 M215.20,518.80 L218.72,517.66 M215.20,518.80 L217.37,521.79 M215.20,518.80 L213.03,521.79 M215.20,518.80 L211.68,517.66 " stroke="#111" stroke-width="1.5" stroke-linecap="butt" fill="none"/>
<path d="M251.70,502.70 L251.70,499.00 M251.70,502.70 L255.22,501.56 M251.70,502.70 L253.87,505.69 M251.70,502.70 L249.53,505.69 M251.70,502.70 L248.18,501.56 " stroke="#111" stroke-width="1.5" stroke-linecap="butt" fill="none"/>
<path d="M298.70,495.10 V615.40 M295.30,612.40 H518.18 M295.30,612.40 H298.70 M295.30,597.74 H298.70 M295.30,583.08 H298.70 M295.30,568.41 H298.70 M295.30,553.75 H298.70 M295.30,539.09 H298.70 M295.30,524.42 H298.70 M295.30,509.76 H298.70 M295.30,495.10 H298.70 M335.28,612.40 V615.40 M371.86,612.40 V615.40 M408.44,612.40 V615.40 M445.02,612.40 V615.40 M481.60,612.40 V615.40 M518.18,612.40 V615.40 " stroke="#111" stroke-width="1.1" fill="none"/>
<text x="289.90" y="616.60" font-size="9.4" text-anchor="end" fill="#2a2a2a" stroke="#2a2a2a" stroke-width="0.08" >0</text>
<text x="289.90" y="601.94" font-size="9.4" text-anchor="end" fill="#2a2a2a" stroke="#2a2a2a" stroke-width="0.08" >10</text>
<text x="289.90" y="587.28" font-size="9.4" text-anchor="end" fill="#2a2a2a" stroke="#2a2a2a" stroke-width="0.08" >20</text>
<text x="289.90" y="572.61" font-size="9.4" text-anchor="end" fill="#2a2a2a" stroke="#2a2a2a" stroke-width="0.08" >30</text>
<text x="289.90" y="557.95" font-size="9.4" text-anchor="end" fill="#2a2a2a" stroke="#2a2a2a" stroke-width="0.08" >40</text>
<text x="289.90" y="543.29" font-size="9.4" text-anchor="end" fill="#2a2a2a" stroke="#2a2a2a" stroke-width="0.08" >50</text>
<text x="289.90" y="528.62" font-size="9.4" text-anchor="end" fill="#2a2a2a" stroke="#2a2a2a" stroke-width="0.08" >60</text>
<text x="289.90" y="513.96" font-size="9.4" text-anchor="end" fill="#2a2a2a" stroke="#2a2a2a" stroke-width="0.08" >70</text>
<text x="289.90" y="499.30" font-size="9.4" text-anchor="end" fill="#2a2a2a" stroke="#2a2a2a" stroke-width="0.08" >80</text>
<text x="318.29" y="632.10" font-size="10.0" text-anchor="middle" fill="#2a2a2a" stroke="#2a2a2a" stroke-width="0.08" >0.35:1</text>
<text x="354.87" y="632.10" font-size="10.0" text-anchor="middle" fill="#2a2a2a" stroke="#2a2a2a" stroke-width="0.08" >0.7:1</text>
<text x="391.45" y="632.10" font-size="10.0" text-anchor="middle" fill="#2a2a2a" stroke="#2a2a2a" stroke-width="0.08" >1.5:1</text>
<text x="428.03" y="632.10" font-size="10.0" text-anchor="middle" fill="#2a2a2a" stroke="#2a2a2a" stroke-width="0.08" >3:1</text>
<text x="464.61" y="632.10" font-size="10.0" text-anchor="middle" fill="#2a2a2a" stroke="#2a2a2a" stroke-width="0.08" >6:1</text>
<text x="501.19" y="632.10" font-size="10.0" text-anchor="middle" fill="#2a2a2a" stroke="#2a2a2a" stroke-width="0.08" >12:1</text>
<path d="M390.15,549.20 V558.80 M388.55,549.20 h3.2 M388.55,558.80 h3.2 M426.73,555.50 V561.50 M425.13,555.50 h3.2 M425.13,561.50 h3.2 M463.31,531.50 V546.10 M461.71,531.50 h3.2 M461.71,546.10 h3.2 M499.89,528.00 V544.20 M498.29,528.00 h3.2 M498.29,544.20 h3.2 " stroke="#555" stroke-width="0.7" fill="none"/>
<path d="M316.99,601.10 L353.57,593.00 L390.15,577.80 L426.73,558.50 L463.31,538.90 L499.89,523.50" stroke="#222" stroke-width="1.1" fill="none"/>
<path d="M316.99,601.10 L353.57,593.00 L390.15,577.80 L426.73,558.50 L463.31,538.90 L499.89,536.20" stroke="#222" stroke-width="1.1" fill="none"/>
<path d="M316.99,589.00 L353.57,573.60 L390.15,553.50 L426.73,530.40 L463.31,518.80 L499.89,516.10" stroke="#222" stroke-width="1.1" fill="none"/>
<path d="M316.99,598.14 L319.89,603.08 L314.09,603.08 Z" fill="#000"/>
<path d="M353.57,590.04 L356.47,594.98 L350.67,594.98 Z" fill="#000"/>
<path d="M390.15,574.84 L393.05,579.78 L387.25,579.78 Z" fill="#000"/>
<path d="M426.73,555.54 L429.63,560.48 L423.83,560.48 Z" fill="#000"/>
<path d="M463.31,535.94 L466.21,540.88 L460.41,540.88 Z" fill="#000"/>
<path d="M499.89,520.54 L502.79,525.48 L496.99,525.48 Z" fill="#000"/>
<circle cx="316.99" cy="601.10" r="2.60" fill="#000"/>
<circle cx="353.57" cy="593.00" r="2.60" fill="#000"/>
<circle cx="390.15" cy="577.80" r="2.60" fill="#000"/>
<circle cx="426.73" cy="558.50" r="2.60" fill="#000"/>
<circle cx="463.31" cy="538.90" r="2.60" fill="#000"/>
<circle cx="499.89" cy="536.20" r="2.60" fill="#000"/>
<rect x="314.39" y="586.40" width="5.20" height="5.20" fill="#000"/>
<rect x="350.97" y="571.00" width="5.20" height="5.20" fill="#000"/>
<rect x="387.55" y="550.90" width="5.20" height="5.20" fill="#000"/>
<rect x="424.13" y="527.80" width="5.20" height="5.20" fill="#000"/>
<rect x="460.71" y="516.20" width="5.20" height="5.20" fill="#000"/>
<rect x="497.29" y="513.50" width="5.20" height="5.20" fill="#000"/>
<path d="M317.50,579.90 L317.50,576.20 M317.50,579.90 L321.02,578.76 M317.50,579.90 L319.67,582.89 M317.50,579.90 L315.33,582.89 M317.50,579.90 L313.98,578.76 " stroke="#111" stroke-width="1.5" stroke-linecap="butt" fill="none"/>
<path d="M354.10,564.00 L354.10,560.30 M354.10,564.00 L357.62,562.86 M354.10,564.00 L356.27,566.99 M354.10,564.00 L351.93,566.99 M354.10,564.00 L350.58,562.86 " stroke="#111" stroke-width="1.5" stroke-linecap="butt" fill="none"/>
<path d="M390.90,542.90 L390.90,539.20 M390.90,542.90 L394.42,541.76 M390.90,542.90 L393.07,545.89 M390.90,542.90 L388.73,545.89 M390.90,542.90 L387.38,541.76 " stroke="#111" stroke-width="1.5" stroke-linecap="butt" fill="none"/>
<path d="M427.10,521.20 L427.10,517.50 M427.10,521.20 L430.62,520.06 M427.10,521.20 L429.27,524.19 M427.10,521.20 L424.93,524.19 M427.10,521.20 L423.58,520.06 " stroke="#111" stroke-width="1.5" stroke-linecap="butt" fill="none"/>
<path d="M464.10,509.20 L464.10,505.50 M464.10,509.20 L467.62,508.06 M464.10,509.20 L466.27,512.19 M464.10,509.20 L461.93,512.19 M464.10,509.20 L460.58,508.06 " stroke="#111" stroke-width="1.5" stroke-linecap="butt" fill="none"/>
<path d="M500.50,506.20 L500.50,502.50 M500.50,506.20 L504.02,505.06 M500.50,506.20 L502.67,509.19 M500.50,506.20 L498.33,509.19 M500.50,506.20 L496.98,505.06 " stroke="#111" stroke-width="1.5" stroke-linecap="butt" fill="none"/>
<path d="M49.70,665.40 V785.50 M46.30,782.50 H269.48 M46.30,782.50 H49.70 M46.30,765.77 H49.70 M46.30,749.04 H49.70 M46.30,732.31 H49.70 M46.30,715.59 H49.70 M46.30,698.86 H49.70 M46.30,682.13 H49.70 M46.30,665.40 H49.70 M86.33,782.50 V785.50 M122.96,782.50 V785.50 M159.59,782.50 V785.50 M196.22,782.50 V785.50 M232.85,782.50 V785.50 M269.48,782.50 V785.50 " stroke="#111" stroke-width="1.1" fill="none"/>
<text x="41.30" y="786.70" font-size="9.4" text-anchor="end" fill="#2a2a2a" stroke="#2a2a2a" stroke-width="0.08" >0</text>
<text x="41.30" y="769.97" font-size="9.4" text-anchor="end" fill="#2a2a2a" stroke="#2a2a2a" stroke-width="0.08" >10</text>
<text x="41.30" y="753.24" font-size="9.4" text-anchor="end" fill="#2a2a2a" stroke="#2a2a2a" stroke-width="0.08" >20</text>
<text x="41.30" y="736.51" font-size="9.4" text-anchor="end" fill="#2a2a2a" stroke="#2a2a2a" stroke-width="0.08" >30</text>
<text x="41.30" y="719.79" font-size="9.4" text-anchor="end" fill="#2a2a2a" stroke="#2a2a2a" stroke-width="0.08" >40</text>
<text x="41.30" y="703.06" font-size="9.4" text-anchor="end" fill="#2a2a2a" stroke="#2a2a2a" stroke-width="0.08" >50</text>
<text x="41.30" y="686.33" font-size="9.4" text-anchor="end" fill="#2a2a2a" stroke="#2a2a2a" stroke-width="0.08" >60</text>
<text x="41.30" y="669.60" font-size="9.4" text-anchor="end" fill="#2a2a2a" stroke="#2a2a2a" stroke-width="0.08" >70</text>
<text x="69.31" y="802.20" font-size="10.0" text-anchor="middle" fill="#2a2a2a" stroke="#2a2a2a" stroke-width="0.08" >0.35:1</text>
<text x="105.95" y="802.20" font-size="10.0" text-anchor="middle" fill="#2a2a2a" stroke="#2a2a2a" stroke-width="0.08" >0.7:1</text>
<text x="142.58" y="802.20" font-size="10.0" text-anchor="middle" fill="#2a2a2a" stroke="#2a2a2a" stroke-width="0.08" >1.5:1</text>
<text x="179.21" y="802.20" font-size="10.0" text-anchor="middle" fill="#2a2a2a" stroke="#2a2a2a" stroke-width="0.08" >3:1</text>
<text x="215.84" y="802.20" font-size="10.0" text-anchor="middle" fill="#2a2a2a" stroke="#2a2a2a" stroke-width="0.08" >6:1</text>
<text x="252.47" y="802.20" font-size="10.0" text-anchor="middle" fill="#2a2a2a" stroke="#2a2a2a" stroke-width="0.08" >12:1</text>
<path d="M68.02,752.50 V758.50 M66.42,752.50 h3.2 M66.42,758.50 h3.2 M104.65,760.40 V769.30 M103.05,760.40 h3.2 M103.05,769.30 h3.2 M141.28,741.30 V748.70 M139.68,741.30 h3.2 M139.68,748.70 h3.2 M177.91,697.20 V712.00 M176.31,697.20 h3.2 M176.31,712.00 h3.2 M177.91,703.00 V735.30 M176.31,703.00 h3.2 M176.31,735.30 h3.2 M177.91,751.20 V761.60 M176.31,751.20 h3.2 M176.31,761.60 h3.2 M214.54,683.40 V700.00 M212.94,683.40 h3.2 M212.94,700.00 h3.2 M214.54,695.00 V721.20 M212.94,695.00 h3.2 M212.94,721.20 h3.2 M214.54,734.60 V742.70 M212.94,734.60 h3.2 M212.94,742.70 h3.2 M251.17,684.30 V703.00 M249.57,684.30 h3.2 M249.57,703.00 h3.2 M251.17,703.50 V724.20 M249.57,703.50 h3.2 M249.57,724.20 h3.2 M251.17,733.00 V743.40 M249.57,733.00 h3.2 M249.57,743.40 h3.2 " stroke="#555" stroke-width="0.7" fill="none"/>
<path d="M68.02,770.30 L104.65,765.00 L141.28,764.00 L177.91,756.50 L214.54,738.80 L251.17,738.50" stroke="#222" stroke-width="1.1" fill="none"/>
<path d="M68.02,765.30 L104.65,754.00 L141.28,745.00 L177.91,719.20 L214.54,708.10 L251.17,713.80" stroke="#222" stroke-width="1.1" fill="none"/>
<path d="M68.02,755.50 L104.65,738.60 L141.28,717.70 L177.91,704.60 L214.54,691.20 L251.17,693.50" stroke="#222" stroke-width="1.1" fill="none"/>
<circle cx="68.02" cy="770.30" r="2.60" fill="#000"/>
<circle cx="104.65" cy="765.00" r="2.60" fill="#000"/>
<circle cx="141.28" cy="764.00" r="2.60" fill="#000"/>
<circle cx="177.91" cy="756.50" r="2.60" fill="#000"/>
<circle cx="214.54" cy="738.80" r="2.60" fill="#000"/>
<circle cx="251.17" cy="738.50" r="2.60" fill="#000"/>
<path d="M68.02,762.34 L70.91,767.28 L65.12,767.28 Z" fill="#000"/>
<path d="M104.65,751.04 L107.55,755.98 L101.75,755.98 Z" fill="#000"/>
<path d="M141.28,742.04 L144.18,746.98 L138.38,746.98 Z" fill="#000"/>
<path d="M177.91,716.24 L180.81,721.18 L175.01,721.18 Z" fill="#000"/>
<path d="M214.54,705.14 L217.44,710.08 L211.64,710.08 Z" fill="#000"/>
<path d="M251.17,710.84 L254.07,715.78 L248.27,715.78 Z" fill="#000"/>
<rect x="65.42" y="752.90" width="5.20" height="5.20" fill="#000"/>
<rect x="102.05" y="736.00" width="5.20" height="5.20" fill="#000"/>
<rect x="138.68" y="715.10" width="5.20" height="5.20" fill="#000"/>
<rect x="175.31" y="702.00" width="5.20" height="5.20" fill="#000"/>
<rect x="211.94" y="688.60" width="5.20" height="5.20" fill="#000"/>
<rect x="248.57" y="690.90" width="5.20" height="5.20" fill="#000"/>
<path d="M68.60,746.60 L68.60,742.90 M68.60,746.60 L72.12,745.46 M68.60,746.60 L70.77,749.59 M68.60,746.60 L66.43,749.59 M68.60,746.60 L65.08,745.46 " stroke="#111" stroke-width="1.5" stroke-linecap="butt" fill="none"/>
<path d="M105.20,730.30 L105.20,726.60 M105.20,730.30 L108.72,729.16 M105.20,730.30 L107.37,733.29 M105.20,730.30 L103.03,733.29 M105.20,730.30 L101.68,729.16 " stroke="#111" stroke-width="1.5" stroke-linecap="butt" fill="none"/>
<path d="M142.00,709.20 L142.00,705.50 M142.00,709.20 L145.52,708.06 M142.00,709.20 L144.17,712.19 M142.00,709.20 L139.83,712.19 M142.00,709.20 L138.48,708.06 " stroke="#111" stroke-width="1.5" stroke-linecap="butt" fill="none"/>
<path d="M298.10,665.60 V785.50 M294.70,782.50 H518.18 M294.70,782.50 H298.10 M294.70,767.89 H298.10 M294.70,753.27 H298.10 M294.70,738.66 H298.10 M294.70,724.05 H298.10 M294.70,709.44 H298.10 M294.70,694.83 H298.10 M294.70,680.21 H298.10 M294.70,665.60 H298.10 M334.78,782.50 V785.50 M371.46,782.50 V785.50 M408.14,782.50 V785.50 M444.82,782.50 V785.50 M481.50,782.50 V785.50 M518.18,782.50 V785.50 " stroke="#111" stroke-width="1.1" fill="none"/>
<text x="289.80" y="786.70" font-size="9.4" text-anchor="end" fill="#2a2a2a" stroke="#2a2a2a" stroke-width="0.08" >0</text>
<text x="289.80" y="772.09" font-size="9.4" text-anchor="end" fill="#2a2a2a" stroke="#2a2a2a" stroke-width="0.08" >10</text>
<text x="289.80" y="757.48" font-size="9.4" text-anchor="end" fill="#2a2a2a" stroke="#2a2a2a" stroke-width="0.08" >20</text>
<text x="289.80" y="742.86" font-size="9.4" text-anchor="end" fill="#2a2a2a" stroke="#2a2a2a" stroke-width="0.08" >30</text>
<text x="289.80" y="728.25" font-size="9.4" text-anchor="end" fill="#2a2a2a" stroke="#2a2a2a" stroke-width="0.08" >40</text>
<text x="289.80" y="713.64" font-size="9.4" text-anchor="end" fill="#2a2a2a" stroke="#2a2a2a" stroke-width="0.08" >50</text>
<text x="289.80" y="699.03" font-size="9.4" text-anchor="end" fill="#2a2a2a" stroke="#2a2a2a" stroke-width="0.08" >60</text>
<text x="289.80" y="684.41" font-size="9.4" text-anchor="end" fill="#2a2a2a" stroke="#2a2a2a" stroke-width="0.08" >70</text>
<text x="289.80" y="669.80" font-size="9.4" text-anchor="end" fill="#2a2a2a" stroke="#2a2a2a" stroke-width="0.08" >80</text>
<text x="317.74" y="802.20" font-size="10.0" text-anchor="middle" fill="#2a2a2a" stroke="#2a2a2a" stroke-width="0.08" >0.35:1</text>
<text x="354.42" y="802.20" font-size="10.0" text-anchor="middle" fill="#2a2a2a" stroke="#2a2a2a" stroke-width="0.08" >0.7:1</text>
<text x="391.10" y="802.20" font-size="10.0" text-anchor="middle" fill="#2a2a2a" stroke="#2a2a2a" stroke-width="0.08" >1.5:1</text>
<text x="427.78" y="802.20" font-size="10.0" text-anchor="middle" fill="#2a2a2a" stroke="#2a2a2a" stroke-width="0.08" >3:1</text>
<text x="464.46" y="802.20" font-size="10.0" text-anchor="middle" fill="#2a2a2a" stroke="#2a2a2a" stroke-width="0.08" >6:1</text>
<text x="501.14" y="802.20" font-size="10.0" text-anchor="middle" fill="#2a2a2a" stroke="#2a2a2a" stroke-width="0.08" >12:1</text>
<path d="M316.44,758.40 V767.70 M314.84,758.40 h3.2 M314.84,767.70 h3.2 M353.12,714.80 V738.30 M351.52,714.80 h3.2 M351.52,738.30 h3.2 M353.12,744.50 V755.00 M351.52,744.50 h3.2 M351.52,755.00 h3.2 M389.80,681.60 V715.10 M388.20,681.60 h3.2 M388.20,715.10 h3.2 M389.80,728.00 V739.80 M388.20,728.00 h3.2 M388.20,739.80 h3.2 M426.48,710.00 V721.90 M424.88,710.00 h3.2 M424.88,721.90 h3.2 M463.16,682.70 V705.00 M461.56,682.70 h3.2 M461.56,705.00 h3.2 M463.16,697.00 V709.20 M461.56,697.00 h3.2 M461.56,709.20 h3.2 M499.84,683.40 V711.00 M498.24,683.40 h3.2 M498.24,711.00 h3.2 M499.84,695.00 V711.50 M498.24,695.00 h3.2 M498.24,711.50 h3.2 " stroke="#555" stroke-width="0.7" fill="none"/>
<path d="M316.44,763.10 L353.12,750.00 L389.80,734.10 L426.48,716.20 L463.16,703.50 L499.84,703.50" stroke="#222" stroke-width="1.1" fill="none"/>
<path d="M316.44,763.10 L353.12,750.00 L389.80,730.90 L426.48,708.10 L463.16,695.80 L499.84,701.20" stroke="#222" stroke-width="1.1" fill="none"/>
<path d="M316.44,746.20 L353.12,726.70 L389.80,698.10 L426.48,696.50 L463.16,694.90 L499.84,697.20" stroke="#222" stroke-width="1.1" fill="none"/>
<circle cx="316.44" cy="763.10" r="2.60" fill="#000"/>
<circle cx="353.12" cy="750.00" r="2.60" fill="#000"/>
<circle cx="389.80" cy="734.10" r="2.60" fill="#000"/>
<circle cx="426.48" cy="716.20" r="2.60" fill="#000"/>
<circle cx="463.16" cy="703.50" r="2.60" fill="#000"/>
<circle cx="499.84" cy="703.50" r="2.60" fill="#000"/>
<path d="M316.44,760.14 L319.34,765.08 L313.54,765.08 Z" fill="#000"/>
<path d="M353.12,747.04 L356.02,751.98 L350.22,751.98 Z" fill="#000"/>
<path d="M389.80,727.94 L392.70,732.88 L386.90,732.88 Z" fill="#000"/>
<path d="M426.48,705.14 L429.38,710.08 L423.58,710.08 Z" fill="#000"/>
<path d="M463.16,692.84 L466.06,697.78 L460.26,697.78 Z" fill="#000"/>
<path d="M499.84,698.24 L502.74,703.18 L496.94,703.18 Z" fill="#000"/>
<rect x="313.84" y="743.60" width="5.20" height="5.20" fill="#000"/>
<rect x="350.52" y="724.10" width="5.20" height="5.20" fill="#000"/>
<rect x="387.20" y="695.50" width="5.20" height="5.20" fill="#000"/>
<rect x="423.88" y="693.90" width="5.20" height="5.20" fill="#000"/>
<rect x="460.56" y="692.30" width="5.20" height="5.20" fill="#000"/>
<rect x="497.24" y="694.60" width="5.20" height="5.20" fill="#000"/>
<path d="M317.50,735.60 L317.50,731.90 M317.50,735.60 L321.02,734.46 M317.50,735.60 L319.67,738.59 M317.50,735.60 L315.33,738.59 M317.50,735.60 L313.98,734.46 " stroke="#111" stroke-width="1.5" stroke-linecap="butt" fill="none"/>
<path d="M348.20,720.80 L348.20,717.10 M348.20,720.80 L351.72,719.66 M348.20,720.80 L350.37,723.79 M348.20,720.80 L346.03,723.79 M348.20,720.80 L344.68,719.66 " stroke="#111" stroke-width="1.5" stroke-linecap="butt" fill="none"/>
<path d="M385.20,691.20 L385.20,687.50 M385.20,691.20 L388.72,690.06 M385.20,691.20 L387.37,694.19 M385.20,691.20 L383.03,694.19 M385.20,691.20 L381.68,690.06 " stroke="#111" stroke-width="1.5" stroke-linecap="butt" fill="none"/>
<path d="M58.8,491.5 H78.5" stroke="#111" stroke-width="1.2"/>
<circle cx="68.70" cy="491.50" r="4.00" fill="#000"/>
<text x="86.00" y="495.10" font-size="11.3" text-anchor="start" fill="#111" stroke="#111" stroke-width="0.1" >Media</text>
<path d="M58.8,511.2 H78.5" stroke="#111" stroke-width="1.2"/>
<rect x="64.70" y="507.20" width="8.00" height="8.00" fill="#000"/>
<text x="86.00" y="514.80" font-size="11.3" text-anchor="start" fill="#111" stroke="#111" stroke-width="0.1" >Zometa</text>
<path d="M58.8,530.8 H78.5" stroke="#111" stroke-width="1.2"/>
<path d="M68.70,526.01 L73.20,533.99 L64.20,533.99 Z" fill="#000"/>
<text x="86.00" y="534.40" font-size="11.3" text-anchor="start" fill="#111" stroke="#111" stroke-width="0.1" ><tspan style="font-family:'Liberation Serif';font-size:11.8px">&#947;&#948;</tspan>T cell depleted</text>
</svg>
</body></html>
